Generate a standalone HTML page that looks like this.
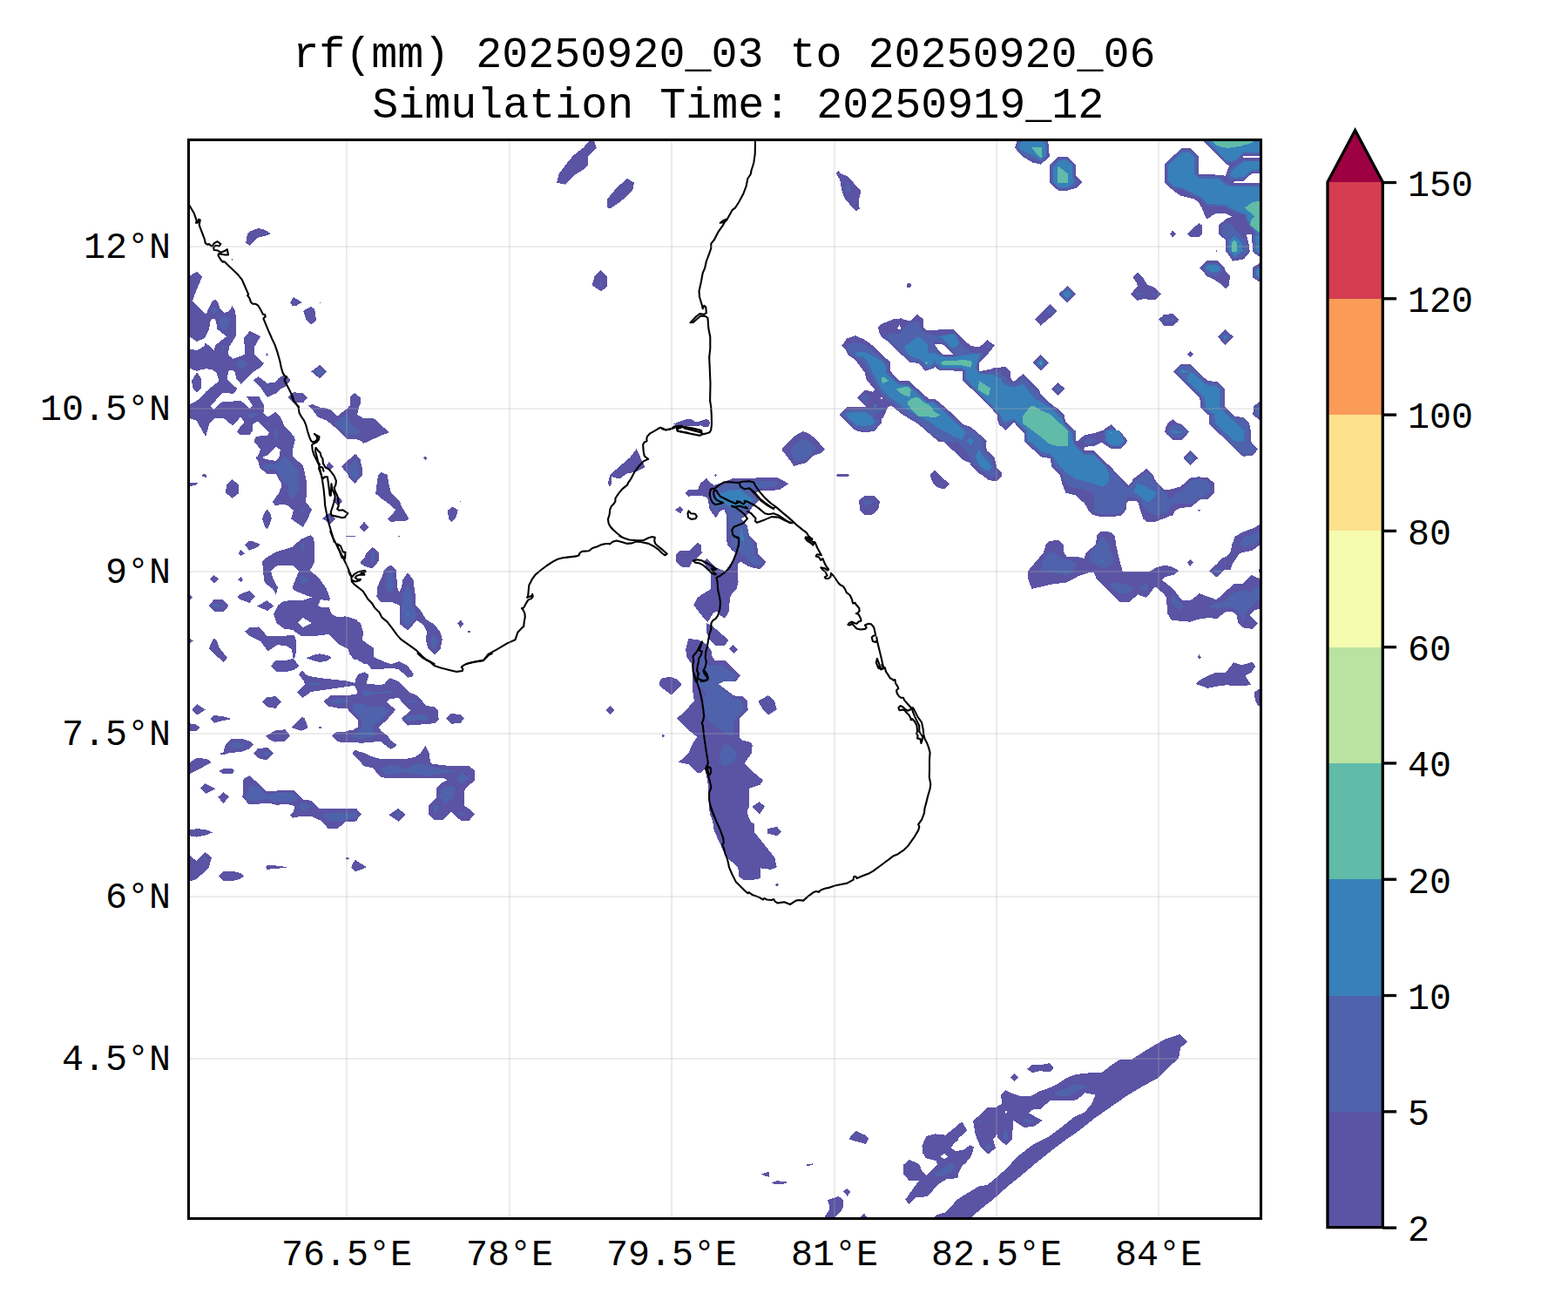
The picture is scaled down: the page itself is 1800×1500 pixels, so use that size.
<!DOCTYPE html>
<html><head><meta charset="utf-8"><title>rf(mm) map</title>
<style>html,body{margin:0;padding:0;background:#fff;overflow:hidden;width:1800px;height:1500px;font-family:"Liberation Mono",monospace}svg{display:block}</style></head><body>
<svg width="1800" height="1500" viewBox="0 0 1800 1500">
<rect width="1800" height="1500" fill="#fff"/>
<defs><clipPath id="ax"><rect x="216.5" y="160.5" width="1231.0" height="1238.0"/></clipPath></defs>
<g clip-path="url(#ax)" shape-rendering="crispEdges" stroke="none">
<path fill="#5b53a4" fill-rule="evenodd" d="M217.8 316.7L226.1 311.7L232.0 317.6L228.4 326.2L224.5 335.6L220.9 345.7L235.1 360.1L237.3 359.6L240.1 352.3L243.4 346.2L246.7 344.0L249.5 345.7L252.9 354.6L257.9 359.0L262.9 357.3L266.6 351.2L269.6 356.2L270.7 362.4L270.7 385.7L266.8 392.4L263.5 396.9L261.8 405.8L263.5 408.6L267.3 411.9L275.7 409.1L280.7 406.9L280.7 396.9L279.6 388.0L286.8 380.0L299.1 386.3L294.6 393.5L292.2 398.0L292.2 406.9L303.0 416.9L298.0 422.5L293.0 425.3L288.0 429.2L276.8 440.9L271.2 434.7L270.1 428.1L267.3 424.7L264.6 424.5L261.8 426.9L261.0 435.9L272.1 445.9L270.1 449.8L267.3 452.6L261.8 450.9L255.7 450.9L246.7 460.4L241.2 467.0L217.8 467.0Z"/>
<path fill="#5b53a4" fill-rule="evenodd" d="M367.0 418.9L375.1 426.4L367.2 434.7L357.2 426.4Z"/>
<path fill="#5b53a4" fill-rule="evenodd" d="M336.9 341.0L346.7 346.8L340.3 350.7L335.3 350.7L333.1 347.3Z"/>
<path fill="#5b53a4" fill-rule="evenodd" d="M356.8 351.8L360.9 354.6L362.0 359.0L362.8 367.4L357.0 372.9L352.0 367.9L348.1 356.8Z"/>
<path fill="#5b53a4" fill-rule="evenodd" d="M366.8 346.8L367.9 346.8L367.9 348.1L366.8 348.1Z"/>
<path fill="#5b53a4" fill-rule="evenodd" d="M306.3 404.7L308.0 407.5L305.2 407.8Z"/>
<path fill="#5b53a4" fill-rule="evenodd" d="M291.3 436.4L296.3 432.0L306.9 439.8L316.3 438.6L319.7 434.2L326.4 429.7L333.8 435.9L328.0 443.7L321.4 447.0L316.9 451.4L306.9 455.9L301.3 448.1L298.0 443.1Z"/>
<path fill="#5b53a4" fill-rule="evenodd" d="M330.3 455.9L336.9 450.3L347.0 450.9L352.8 456.5L348.1 462.0L335.8 461.5Z"/>
<path fill="#5b53a4" fill-rule="evenodd" d="M217.8 455.0L250.6 455.0L241.2 466.1L245.4 470.0L254.5 461.5L272.4 460.2L276.8 460.0L286.8 468.9L290.0 465.6L282.9 455.0L297.4 455.0L303.5 466.1L302.4 473.9L306.9 478.9L316.3 472.8L321.4 477.8L326.4 488.4L336.9 500.1L339.0 504.6L336.4 514.0L336.4 524.0L348.1 534.6L351.4 549.7L352.5 564.1L350.9 575.8L357.9 584.7L354.8 592.0L348.1 605.3L334.2 595.5L336.9 585.8L331.4 580.8L325.8 578.6L315.8 580.3L313.0 575.8L319.7 566.4L322.5 560.2L322.5 554.1L316.9 544.1L305.8 543.5L298.5 536.8L296.3 529.6L293.5 525.2L296.3 522.9L299.1 515.7L291.3 506.2L294.6 500.7L306.9 500.1L309.1 496.2L296.3 483.4L290.2 486.7L289.6 494.5L286.8 499.0L275.7 499.5L272.1 495.6L275.7 490.1L280.7 485.1L276.3 478.4L267.9 487.9L265.7 487.3L256.8 480.1L246.7 480.1L240.1 486.7L236.7 499.5L235.1 499.5L225.6 482.8L217.8 480.1Z"/>
<path fill="#5b53a4" fill-rule="evenodd" d="M231.2 545.0L235.1 543.9L237.8 545.8L236.7 548.0L232.8 546.9Z"/>
<path fill="#5b53a4" fill-rule="evenodd" d="M216.7 554.4L226.7 554.1L226.1 556.3L222.2 557.4L216.7 558.0Z"/>
<path fill="#5b53a4" fill-rule="evenodd" d="M266.2 550.2L273.5 555.8L274.0 566.4L266.2 571.9L259.0 565.2L260.1 556.9Z"/>
<path fill="#5b53a4" fill-rule="evenodd" d="M306.9 584.0L310.8 590.3L311.9 595.3L309.1 603.1L306.3 607.8L303.0 602.0L301.1 595.3L303.5 588.6Z"/>
<path fill="#5b53a4" fill-rule="evenodd" d="M354.2 465.6L358.1 463.9L368.1 467.8L373.7 468.4L379.8 470.6L387.1 477.8L392.6 473.4L399.3 468.4L402.1 466.1L402.7 455.0L410.0 455.0L410.0 504.0L398.2 503.8L388.2 493.4L374.8 482.3L364.8 478.9L359.2 470.6Z"/>
<path fill="#5b53a4" fill-rule="evenodd" d="M407.7 521.3L410.0 522.4L410.0 553.0L408.2 554.7L398.2 543.0L392.1 535.7L399.3 528.5Z"/>
<path fill="#5b53a4" fill-rule="evenodd" d="M377.6 530.2L383.2 535.2L379.3 539.6L373.7 535.7Z"/>
<path fill="#5b53a4" fill-rule="evenodd" d="M388.2 569.7L393.2 575.3L388.2 580.8L382.0 574.7Z"/>
<path fill="#5b53a4" fill-rule="evenodd" d="M377.6 588.6L384.8 595.3L379.3 601.1L370.0 595.3Z"/>
<path fill="#5b53a4" fill-rule="evenodd" d="M397.1 615.0L407.7 615.0L407.7 615.9L397.1 615.9Z"/>
<path fill="#5b53a4" fill-rule="evenodd" d="M357.0 613.9L359.8 617.8L361.4 624.5L360.9 645.6L355.9 654.5L359.8 657.9L367.0 664.6L374.8 675.7L379.0 686.8L377.6 689.6L368.1 688.0L365.3 694.6L368.1 696.9L377.6 697.4L380.9 704.7L387.1 708.0L397.1 707.4L410.0 711.3L410.0 757.0L406.0 756.4L399.3 744.7L388.2 739.2L377.0 728.0L363.7 729.7L345.3 729.7L335.8 723.0L325.8 721.4L317.5 715.2L314.1 705.2L319.1 694.6L325.8 689.6L347.0 689.1L358.1 685.7L338.1 677.9L335.3 675.1L342.5 656.8L343.1 655.1L336.9 649.0L317.5 649.5L311.1 655.1L313.0 663.5L318.9 674.0L316.9 682.4L313.0 675.7L305.2 670.1L303.0 665.7L301.1 644.5L304.7 640.6L316.9 633.4L335.8 627.8L345.3 618.9Z"/>
<path fill="#5b53a4" fill-rule="evenodd" d="M285.7 621.1L290.2 621.1L299.1 625.0L294.6 628.4L286.3 631.7L281.3 625.6Z"/>
<path fill="#5b53a4" fill-rule="evenodd" d="M276.5 631.2L280.7 635.4L276.8 637.8L273.3 635.1Z"/>
<path fill="#5b53a4" fill-rule="evenodd" d="M245.9 660.1L251.0 664.8L245.9 669.8L241.2 664.8Z"/>
<path fill="#5b53a4" fill-rule="evenodd" d="M276.5 662.1L279.0 665.1L276.6 667.9L273.5 665.5Z"/>
<path fill="#5b53a4" fill-rule="evenodd" d="M216.7 681.3L220.9 685.5L216.7 689.1Z"/>
<path fill="#5b53a4" fill-rule="evenodd" d="M286.3 678.2L293.0 684.8L286.3 691.8L276.8 688.5L272.4 685.2L276.8 681.3Z"/>
<path fill="#5b53a4" fill-rule="evenodd" d="M245.6 688.3L256.2 688.3L262.9 694.9L256.8 701.9L245.9 701.9L239.2 695.2Z"/>
<path fill="#5b53a4" fill-rule="evenodd" d="M306.7 689.1L314.1 695.5L306.9 701.1L295.2 695.5Z"/>
<path fill="#5b53a4" fill-rule="evenodd" d="M281.3 724.7L286.3 720.2L297.4 719.4L306.9 730.3L338.1 729.2L339.7 734.7L339.7 749.2L338.1 755.9L335.8 754.8L335.3 745.3L328.0 740.8L318.0 740.3L307.4 747.5L299.1 735.8L285.7 729.2Z"/>
<path fill="#5b53a4" fill-rule="evenodd" d="M216.7 731.9L221.7 735.6L216.7 739.2Z"/>
<path fill="#5b53a4" fill-rule="evenodd" d="M245.9 731.9L249.0 735.3L251.8 743.6L261.0 754.8L256.8 759.8L247.9 752.5L240.1 744.7L242.3 738.1Z"/>
<path fill="#5b53a4" fill-rule="evenodd" d="M367.0 750.3L377.0 752.3L380.9 754.8L374.8 758.7L367.0 760.1L358.1 757.6L351.2 755.3L359.2 752.0Z"/>
<path fill="#5b53a4" fill-rule="evenodd" d="M310.8 764.8L315.8 758.3L328.0 758.1L336.9 755.9L343.1 764.2L338.1 768.7L326.9 771.5L316.9 770.9Z"/>
<path fill="#5b53a4" fill-rule="evenodd" d="M347.0 768.9L350.3 773.4L354.8 776.1L370.4 778.4L399.3 781.7L407.1 783.9L410.0 777.2L410.0 792.8L407.1 786.7L388.2 789.5L368.1 792.3L357.0 794.0L347.5 800.9L340.8 794.5L350.1 785.0L348.1 780.6L343.1 774.5Z"/>
<path fill="#5b53a4" fill-rule="evenodd" d="M305.8 800.4L316.3 799.0L323.0 805.3L316.3 812.9L308.6 811.8L304.7 809.5L301.1 805.1Z"/>
<path fill="#5b53a4" fill-rule="evenodd" d="M371.5 805.1L379.3 798.2L399.3 797.9L410.0 796.7L410.0 825.1L398.2 812.9L388.2 812.7L377.0 810.7Z"/>
<path fill="#5b53a4" fill-rule="evenodd" d="M226.1 807.9L235.8 814.6L226.1 820.7L220.2 814.9Z"/>
<path fill="#5b53a4" fill-rule="evenodd" d="M245.6 821.2L254.5 821.8L264.0 824.2L264.0 825.7L254.5 827.4L246.2 829.6L241.2 825.1Z"/>
<path fill="#5b53a4" fill-rule="evenodd" d="M216.7 830.1L224.5 831.3L230.0 834.9L225.6 838.5L216.7 839.6Z"/>
<path fill="#5b53a4" fill-rule="evenodd" d="M347.0 822.9L349.8 824.6L352.8 832.9L352.5 835.7L345.9 838.7L334.2 834.9Z"/>
<path fill="#5b53a4" fill-rule="evenodd" d="M365.9 834.0L369.0 834.0L369.0 835.8L365.9 835.8Z"/>
<path fill="#5b53a4" fill-rule="evenodd" d="M305.2 844.6L315.8 838.5L327.5 837.2L333.1 844.6L326.9 850.7L315.8 851.6L308.0 848.0Z"/>
<path fill="#5b53a4" fill-rule="evenodd" d="M381.2 844.6L385.9 840.2L399.3 839.4L406.0 837.4L410.0 834.6L410.0 851.3L398.2 852.4L388.2 851.3Z"/>
<path fill="#5b53a4" fill-rule="evenodd" d="M265.7 848.0L278.5 848.0L286.8 850.7L291.1 854.6L285.7 859.7L276.8 862.8L263.5 864.1L256.8 866.3L253.2 865.8L253.2 864.1L256.2 863.6L259.0 854.1Z"/>
<path fill="#5b53a4" fill-rule="evenodd" d="M295.7 859.1L307.8 858.0L314.1 864.7L306.3 872.5L296.9 870.2L291.3 864.7Z"/>
<path fill="#5b53a4" fill-rule="evenodd" d="M410.0 860.8L404.3 864.7L410.0 870.8Z"/>
<path fill="#5b53a4" fill-rule="evenodd" d="M216.7 875.8L225.6 869.9L237.3 870.8L242.9 875.0L230.0 881.9L216.7 888.6Z"/>
<path fill="#5b53a4" fill-rule="evenodd" d="M256.8 882.1L266.8 881.9L269.0 884.7L266.8 887.7L255.7 887.7L251.2 884.7Z"/>
<path fill="#5b53a4" fill-rule="evenodd" d="M286.8 890.3L305.8 907.8L337.5 907.0L348.6 918.1L357.6 918.7L367.0 928.1L410.0 927.8L410.0 932.0L336.9 932.0L338.6 925.4L330.8 923.1L316.9 923.7L308.0 921.5L293.5 922.9L285.7 922.9L278.2 914.8L279.3 908.7L279.0 896.4L280.7 893.1Z"/>
<path fill="#5b53a4" fill-rule="evenodd" d="M235.8 899.2L247.9 905.3L236.2 910.9L230.0 904.8Z"/>
<path fill="#5b53a4" fill-rule="evenodd" d="M256.8 908.9L262.9 914.8L256.5 921.8L250.1 914.8Z"/>
<path fill="#5b53a4" fill-rule="evenodd" d="M336.9 920.0L338.6 925.0L336.9 931.1L333.1 935.6L336.4 938.7L339.2 937.6L357.6 936.9L368.1 941.7L376.5 950.6L387.1 951.4L397.1 942.8L410.0 942.3L410.0 928.4L371.5 928.4L367.0 928.4L358.7 920.0Z"/>
<path fill="#5b53a4" fill-rule="evenodd" d="M216.7 952.3L226.7 951.2L236.7 952.3L244.0 955.4L236.7 958.4L225.6 960.6L216.7 959.0Z"/>
<path fill="#5b53a4" fill-rule="evenodd" d="M216.7 980.7L225.6 988.2L235.8 977.9L242.9 984.6L239.5 996.3L233.4 1001.8L225.6 1009.1L216.7 1011.9Z"/>
<path fill="#5b53a4" fill-rule="evenodd" d="M256.2 1000.2L269.0 1000.2L276.8 1002.2L279.9 1005.5L276.3 1008.5L267.9 1010.8L256.2 1010.8L251.0 1005.2Z"/>
<path fill="#5b53a4" fill-rule="evenodd" d="M306.3 993.2L314.7 993.2L324.7 994.4L328.9 995.5L324.7 996.3L314.7 996.8L306.9 998.0L304.9 995.7Z"/>
<path fill="#5b53a4" fill-rule="evenodd" d="M396.2 984.0L399.3 984.0L401.0 985.7L398.2 986.8Z"/>
<path fill="#5b53a4" fill-rule="evenodd" d="M407.7 987.1L410.0 987.9L410.0 999.6L406.5 999.3L403.0 995.7L404.9 991.3Z"/>
<path fill="#5b53a4" fill-rule="evenodd" d="M284.2 268.3L287.5 265.3L296.7 262.0L304.2 263.7L310.8 268.3L305.8 270.3L296.7 272.5L291.7 276.7L286.7 281.7L282.2 278.7L283.3 271.7Z"/>
<path fill="#5b53a4" fill-rule="evenodd" d="M265.8 297.2L267.0 297.2L267.0 298.8L265.8 298.8Z"/>
<path fill="#5b53a4" fill-rule="evenodd" d="M676.7 161.7L682.0 161.7L684.7 170.0L675.0 179.2L674.7 190.0L669.2 195.0L660.8 200.0L655.0 205.8L649.2 211.7L639.2 209.7L641.7 199.2L650.0 188.3L658.3 178.3L670.0 169.2Z"/>
<path fill="#5b53a4" fill-rule="evenodd" d="M720.0 205.0L728.0 209.7L726.3 218.3L720.0 225.0L710.8 232.5L700.0 239.7L697.2 238.3L697.2 228.3L708.3 215.0Z"/>
<path fill="#5b53a4" fill-rule="evenodd" d="M690.0 310.0L696.7 317.0L696.7 329.2L690.0 334.2L679.7 327.5L682.5 316.7Z"/>
<path fill="#5b53a4" fill-rule="evenodd" d="M962.5 195.8L965.0 199.2L973.3 202.5L988.3 219.2L985.8 230.0L986.7 239.7L982.5 242.5L970.0 228.3L966.7 220.0L964.2 206.7L960.0 199.2Z"/>
<path fill="#5b53a4" fill-rule="evenodd" d="M1007.9 375.6L1012.4 371.7L1025.7 366.2L1034.6 365.4L1038.0 367.3L1045.2 367.8L1053.0 360.9L1059.7 366.2L1060.2 375.6L1063.0 379.0L1080.3 378.4L1094.8 378.4L1104.2 387.9L1114.8 397.3L1124.8 397.9L1133.7 390.3L1141.5 396.8L1133.7 406.8L1123.7 416.8L1123.7 426.3L1150.0 421.3L1150.0 489.2L1146.0 485.9L1144.3 474.7L1132.6 463.6L1114.8 445.8L1105.3 436.9L1105.3 425.7L1078.6 425.2L1073.6 421.3L1070.8 423.0L1062.5 425.7L1054.1 416.8L1044.1 415.7L1032.4 404.6L1021.3 393.5L1016.8 390.1L1011.2 386.2L1009.0 380.1Z"/>
<path fill="#5b53a4" fill-rule="evenodd" d="M966.1 396.8L972.3 388.4L982.3 385.1L992.9 390.1L1003.5 397.9L1021.8 415.7L1021.8 425.7L1033.0 437.4L1043.5 437.4L1065.8 457.5L1073.6 458.0L1085.9 468.1L1105.9 487.0L1114.8 490.3L1130.4 503.7L1133.7 507.0L1078.1 507.0L1072.5 502.6L1064.7 495.9L1054.7 487.0L1043.5 480.3L1034.6 474.7L1023.5 465.8L1019.6 466.9L1014.0 479.2L1011.8 480.9L1011.8 485.9L1003.5 494.8L992.3 496.5L982.3 494.2L972.3 484.8L963.9 475.9L972.3 467.5L994.5 466.9L984.0 456.4L992.9 447.5L1002.3 449.7L1004.6 446.9L995.1 436.9L992.9 428.0L982.3 413.5L973.9 407.4L970.6 400.7Z"/>
<path fill="#5b53a4" fill-rule="evenodd" d="M1140.0 421.8L1154.5 421.3L1160.0 426.3L1160.6 435.8L1163.9 438.0L1174.5 429.1L1192.9 447.5L1194.6 452.5L1209.0 465.8L1213.5 468.1L1221.8 476.4L1223.0 483.7L1234.7 494.8L1235.2 507.0L1175.6 507.0L1175.6 497.0L1163.9 484.8L1154.5 493.7L1146.7 487.0L1145.0 477.0L1140.0 471.4Z"/>
<path fill="#5b53a4" fill-rule="evenodd" d="M1205.1 349.1L1213.5 357.3L1206.3 363.9L1194.6 373.6L1188.1 366.9L1197.9 356.7Z"/>
<path fill="#5b53a4" fill-rule="evenodd" d="M1194.8 407.1L1204.0 416.3L1194.8 425.7L1185.4 416.3Z"/>
<path fill="#5b53a4" fill-rule="evenodd" d="M1214.8 439.1L1222.6 446.3L1214.8 453.8L1207.1 446.3Z"/>
<path fill="#5b53a4" fill-rule="evenodd" d="M1336.0 361.2L1340.0 361.2L1340.0 373.4L1336.5 373.2L1330.2 366.7Z"/>
<path fill="#5b53a4" fill-rule="evenodd" d="M1140.0 394.8L1142.0 396.6L1140.0 398.1Z"/>
<path fill="#5b53a4" fill-rule="evenodd" d="M1236.9 507.0L1244.7 499.5L1255.8 497.6L1263.6 495.9L1275.3 487.2L1294.8 507.0Z"/>
<path fill="#5b53a4" fill-rule="evenodd" d="M1340.0 488.7L1338.2 489.8L1337.1 495.9L1340.0 499.2Z"/>
<path fill="#5b53a4" fill-rule="evenodd" d="M1175.6 493.9L1235.2 493.9L1235.2 506.1L1238.0 505.6L1244.7 499.5L1255.8 497.2L1265.8 493.9L1284.8 493.9L1294.8 506.1L1287.0 514.5L1274.7 514.5L1264.7 507.8L1256.9 511.7L1245.8 512.8L1244.1 515.6L1245.2 517.3L1255.8 517.3L1274.7 535.6L1295.3 556.8L1315.9 537.9L1323.7 545.1L1325.4 550.7L1336.0 561.8L1340.0 562.4L1340.0 593.6L1327.1 598.6L1315.9 598.6L1312.0 594.1L1307.0 578.0L1304.8 574.6L1295.9 574.6L1293.1 578.0L1292.6 585.2L1287.0 591.7L1275.3 593.2L1259.2 592.4L1254.7 590.8L1249.1 585.2L1245.2 578.0L1234.7 568.5L1223.5 565.7L1219.6 556.2L1216.8 545.7L1207.4 535.6L1205.7 526.2L1194.6 524.2L1175.6 506.1Z"/>
<path fill="#5b53a4" fill-rule="evenodd" d="M1179.5 655.9L1197.9 634.2L1200.7 624.7L1204.6 621.4L1209.6 620.3L1215.7 620.3L1220.7 625.3L1221.1 633.6L1224.6 638.7L1238.0 639.2L1244.7 640.9L1246.9 634.2L1258.0 624.7L1259.2 614.7L1264.2 609.5L1275.3 610.8L1279.8 615.3L1281.4 626.4L1288.1 655.4L1295.9 660.9L1313.7 660.4L1323.7 653.7L1329.3 650.9L1336.0 649.2L1340.0 650.3L1340.0 655.9L1179.5 655.9Z"/>
<path fill="#5b53a4" fill-rule="evenodd" d="M1180.1 655.9L1186.8 647.8L1287.0 647.8L1288.1 654.5L1295.3 660.9L1313.7 660.0L1323.7 653.4L1329.3 650.6L1336.0 649.1L1340.0 650.2L1340.0 662.3L1337.1 662.3L1334.3 665.6L1337.7 669.5L1340.0 670.6L1340.0 694.0L1339.3 693.5L1338.8 684.5L1333.8 678.4L1325.7 672.9L1315.9 685.9L1306.5 682.1L1296.5 690.7L1285.3 690.7L1265.8 671.7L1258.6 663.9L1255.8 657.3L1249.1 657.3L1238.0 661.2L1224.6 668.4L1206.8 670.6L1184.5 675.9L1182.3 670.1L1180.1 663.9Z"/>
<path fill="#5b53a4" fill-rule="evenodd" d="M1379.1 159.5L1389.4 170.2L1406.3 187.2L1411.3 190.3L1409.5 194.3L1406.8 201.9L1399.2 200.6L1376.0 200.1L1376.0 179.1L1366.6 170.2L1356.3 170.2L1337.1 188.1L1337.1 209.5L1346.5 218.4L1355.4 224.7L1362.6 226.5L1371.5 228.7L1376.0 232.7L1379.5 238.1L1381.3 242.6L1383.1 247.9L1386.2 251.5L1392.0 247.0L1396.5 244.8L1407.2 245.3L1414.4 248.4L1407.2 251.5L1399.2 258.2L1399.2 268.9L1407.2 275.6L1407.2 289.0L1449.2 289.0L1449.2 159.5Z"/>
<path fill="#5b53a4" fill-rule="evenodd" d="M1346.0 264.9L1350.0 268.5L1346.0 272.1L1342.9 268.5Z"/>
<path fill="#5b53a4" fill-rule="evenodd" d="M1376.4 256.0L1380.0 258.7L1380.0 268.5L1376.9 271.9L1366.6 271.9L1363.0 268.0Z"/>
<path fill="#5b53a4" fill-rule="evenodd" d="M1407.2 280.0L1434.0 280.0L1434.9 288.9L1427.8 297.4L1415.3 299.7L1411.7 294.3L1407.2 288.0Z"/>
<path fill="#5b53a4" fill-rule="evenodd" d="M1438.1 280.0L1449.2 280.0L1449.2 297.0L1443.9 293.4L1438.1 288.9Z"/>
<path fill="#5b53a4" fill-rule="evenodd" d="M1449.2 300.1L1438.1 306.8L1438.1 318.4L1449.2 326.0Z"/>
<path fill="#5b53a4" fill-rule="evenodd" d="M1395.9 286.8L1397.1 286.8L1397.1 289.1L1395.9 289.1Z"/>
<path fill="#5b53a4" fill-rule="evenodd" d="M1385.8 299.0L1397.4 299.0L1405.9 307.3L1406.8 311.3L1411.7 316.2L1411.3 327.4L1407.7 330.9L1405.5 330.5L1400.1 325.1L1392.0 319.8L1386.2 317.5L1377.3 307.7Z"/>
<path fill="#5b53a4" fill-rule="evenodd" d="M1335.7 361.3L1341.1 360.9L1342.0 360.2L1346.5 360.2L1352.9 366.7L1352.3 368.9L1346.5 373.8L1336.6 373.8L1330.2 366.9Z"/>
<path fill="#5b53a4" fill-rule="evenodd" d="M1406.3 378.1L1416.2 386.8L1406.3 396.0L1398.1 386.8Z"/>
<path fill="#5b53a4" fill-rule="evenodd" d="M1366.3 403.1L1370.2 406.7L1366.3 410.0L1363.0 406.7Z"/>
<path fill="#5b53a4" fill-rule="evenodd" d="M1167.8 160.0L1202.9 160.0L1204.0 168.9L1204.8 179.5L1195.1 188.7L1185.7 186.7L1174.5 180.0L1165.1 170.0Z"/>
<path fill="#5b53a4" fill-rule="evenodd" d="M1214.6 180.3L1225.7 180.3L1234.7 189.2L1234.9 201.8L1242.7 209.3L1235.8 215.7L1225.7 218.5L1214.6 218.5L1205.1 209.6L1205.1 189.5Z"/>
<path fill="#5b53a4" fill-rule="evenodd" d="M1340.0 185.6L1337.1 188.4L1337.1 209.6L1340.0 211.8Z"/>
<path fill="#5b53a4" fill-rule="evenodd" d="M1306.0 313.0L1312.7 319.3L1316.0 325.3L1318.0 327.0L1325.3 330.0L1333.0 337.7L1326.7 343.7L1319.3 343.7L1312.7 343.0L1305.7 344.8L1298.0 337.5L1306.0 328.0L1304.0 323.3L1301.3 319.3L1301.3 317.3Z"/>
<path fill="#5b53a4" fill-rule="evenodd" d="M1355.4 418.1L1366.6 418.1L1386.2 437.1L1397.4 438.0L1405.9 446.5L1405.9 466.6L1417.1 477.7L1427.8 479.1L1434.0 485.8L1435.8 494.7L1436.3 507.2L1444.1 515.7L1437.6 522.9L1426.9 523.8L1417.1 514.8L1388.5 486.7L1388.0 476.0L1386.2 476.0L1378.2 467.5L1377.3 456.3L1347.2 426.4Z"/>
<path fill="#5b53a4" fill-rule="evenodd" d="M1346.5 480.9L1352.3 486.2L1356.3 486.7L1365.1 495.8L1356.7 504.7L1346.5 504.7L1337.1 496.1L1340.2 486.2Z"/>
<path fill="#5b53a4" fill-rule="evenodd" d="M1366.3 517.1L1375.1 526.0L1366.3 534.0L1358.1 526.0Z"/>
<path fill="#5b53a4" fill-rule="evenodd" d="M1449.2 458.1L1439.4 466.1L1438.1 476.0L1449.2 484.5Z"/>
<path fill="#5b53a4" fill-rule="evenodd" d="M1300.0 550.4L1316.1 538.1L1323.7 545.0L1325.9 550.8L1335.7 562.0L1343.8 561.6L1355.4 558.4L1366.1 548.6L1376.0 547.3L1386.7 548.2L1393.8 554.4L1393.8 565.6L1386.7 572.7L1376.9 573.6L1367.9 581.7L1355.4 583.0L1349.2 585.7L1346.0 591.5L1335.7 594.2L1326.8 598.6L1316.1 598.6L1312.5 595.5L1309.4 586.6L1306.3 575.9L1300.0 573.6Z"/>
<path fill="#5b53a4" fill-rule="evenodd" d="M1374.9 585.2L1378.2 585.2L1376.4 587.0Z"/>
<path fill="#5b53a4" fill-rule="evenodd" d="M1449.2 600.0L1439.4 605.8L1425.1 611.2L1417.5 616.1L1414.4 624.6L1412.2 634.8L1397.9 646.5L1389.4 654.0L1412.6 654.0L1415.3 645.6L1423.3 634.8L1437.6 631.7L1449.2 623.2Z"/>
<path fill="#5b53a4" fill-rule="evenodd" d="M1366.3 642.0L1370.2 645.1L1366.3 650.0L1363.0 645.6Z"/>
<path fill="#5b53a4" fill-rule="evenodd" d="M1403.7 640.0L1419.7 640.0L1416.2 645.4L1407.2 652.5L1397.0 662.8L1388.0 655.4L1397.4 646.7Z"/>
<path fill="#5b53a4" fill-rule="evenodd" d="M1449.2 652.5L1445.2 653.4L1444.3 655.2L1446.1 657.9L1449.2 658.3Z"/>
<path fill="#5b53a4" fill-rule="evenodd" d="M1300.0 661.0L1312.5 659.7L1317.9 658.3L1325.9 652.1L1335.7 648.9L1342.9 649.8L1348.7 652.1L1353.2 655.4L1347.4 659.7L1335.7 662.3L1333.8 665.5L1346.5 675.7L1357.2 689.2L1366.6 689.2L1376.9 681.1L1396.5 688.3L1416.2 670.4L1426.9 669.9L1436.7 660.1L1449.2 665.5L1449.2 697.6L1439.4 700.8L1434.5 705.7L1444.1 715.5L1437.2 721.8L1426.9 720.4L1421.5 715.1L1419.3 705.2L1416.2 702.6L1407.2 702.1L1397.4 709.7L1385.8 709.3L1376.0 710.6L1366.1 713.7L1355.4 712.8L1344.7 711.5L1340.2 704.3L1339.3 686.5L1335.7 681.1L1325.9 673.1L1316.1 686.0L1305.4 682.0L1300.0 686.9Z"/>
<path fill="#5b53a4" fill-rule="evenodd" d="M1376.4 751.3L1379.1 754.8L1377.0 756.9L1374.9 754.8Z"/>
<path fill="#5b53a4" fill-rule="evenodd" d="M1392.0 774.0L1394.7 772.3L1407.2 771.8L1416.6 760.2L1425.1 763.3L1431.4 762.0L1437.2 759.3L1441.2 764.7L1436.7 771.4L1432.3 774.0Z"/>
<path fill="#5b53a4" fill-rule="evenodd" d="M1416.6 760.0L1419.7 761.8L1425.1 763.1L1431.4 761.8L1437.2 760.0L1441.2 764.9L1436.7 769.8L1429.6 776.1L1436.0 785.5L1429.6 787.3L1421.5 786.8L1407.2 786.4L1396.5 787.7L1386.2 789.9L1379.5 787.3L1372.2 785.0L1376.0 781.4L1388.0 774.7L1395.6 772.5L1406.8 772.1L1413.5 763.6Z"/>
<path fill="#5b53a4" fill-rule="evenodd" d="M1449.2 788.2L1439.4 794.9L1441.2 804.7L1443.9 809.2L1449.2 812.3Z"/>
<path fill="#5b53a4" fill-rule="evenodd" d="M400.0 466.7L402.2 465.6L402.2 455.6L407.2 450.9L413.9 456.7L413.9 463.4L412.8 464.5L411.1 472.3L410.0 475.6L416.7 479.9L429.0 480.1L446.0 495.5L445.7 496.8L437.9 499.6L417.8 508.8L413.4 505.7L407.8 503.5L400.0 501.8Z"/>
<path fill="#5b53a4" fill-rule="evenodd" d="M400.0 528.0L407.2 521.1L413.4 526.3L415.6 536.9L415.8 545.2L407.6 554.7L400.0 547.5Z"/>
<path fill="#5b53a4" fill-rule="evenodd" d="M437.9 541.9L445.1 545.2L445.7 552.5L447.9 561.4L449.0 565.8L458.5 575.3L462.4 583.7L469.6 595.3L465.1 598.1L447.9 598.7L445.1 595.3L454.6 585.3L442.9 575.3L439.0 573.1L431.2 566.4L432.3 558.0L434.0 545.2Z"/>
<path fill="#5b53a4" fill-rule="evenodd" d="M488.0 524.1L490.2 525.7L488.5 528.0L486.0 525.5Z"/>
<path fill="#5b53a4" fill-rule="evenodd" d="M527.8 575.0L529.0 575.0L529.0 576.1L527.8 576.1Z"/>
<path fill="#5b53a4" fill-rule="evenodd" d="M518.9 581.2L525.8 585.3L523.1 594.2L518.6 599.0L514.9 595.3L514.1 585.9Z"/>
<path fill="#5b53a4" fill-rule="evenodd" d="M418.0 598.9L423.2 605.2L418.0 610.8L412.2 605.2Z"/>
<path fill="#5b53a4" fill-rule="evenodd" d="M457.0 614.8L458.8 614.8L458.8 615.9L457.0 615.9Z"/>
<path fill="#5b53a4" fill-rule="evenodd" d="M427.8 627.9L434.7 634.0L434.7 644.0L427.3 652.7L417.8 649.6L413.4 645.7L418.4 640.1L420.0 635.6Z"/>
<path fill="#5b53a4" fill-rule="evenodd" d="M448.1 648.2L454.8 654.0L455.7 667.4L456.8 678.0L458.5 679.1L461.0 674.1L462.4 665.2L467.9 657.1L474.4 665.2L476.8 683.5L477.4 695.2L483.0 700.8L489.1 710.8L498.0 716.4L505.2 724.7L507.8 733.6L505.6 744.8L498.6 751.5L491.3 744.2L489.4 736.4L489.6 724.2L485.7 716.9L478.5 711.9L468.2 723.6L458.5 715.8L458.5 694.7L449.0 690.8L437.3 690.5L432.3 685.2L433.4 673.0L439.0 660.7L440.6 654.6Z"/>
<path fill="#5b53a4" fill-rule="evenodd" d="M529.0 711.9L532.2 715.5L528.6 720.8L525.3 715.5Z"/>
<path fill="#5b53a4" fill-rule="evenodd" d="M537.0 724.2L540.1 724.2L540.1 725.8L537.0 725.8Z"/>
<path fill="#5b53a4" fill-rule="evenodd" d="M400.0 708.6L406.7 710.3L413.9 715.3L416.9 725.3L416.1 734.8L429.5 744.2L429.2 754.2L437.9 758.1L446.2 762.0L417.8 762.0L411.1 757.6L405.6 756.5L400.0 747.6Z"/>
<path fill="#5b53a4" fill-rule="evenodd" d="M400.0 750.0L429.0 750.0L429.2 755.0L437.9 758.4L449.0 762.2L453.5 760.6L457.9 759.1L466.8 763.4L470.7 767.8L474.8 773.9L473.5 776.5L467.9 777.8L462.4 772.3L456.8 767.8L444.5 766.7L437.9 768.4L427.3 768.4L417.8 758.4L406.7 756.1L403.3 751.7Z"/>
<path fill="#5b53a4" fill-rule="evenodd" d="M408.4 783.4L408.4 779.0L411.1 773.9L418.4 771.2L423.2 774.5L422.8 777.8L421.2 781.2L420.6 784.5L436.7 786.2L441.8 784.5L444.0 781.2L448.1 778.2L457.9 782.3L470.2 794.5L478.0 797.9L485.7 805.7L489.1 810.1L498.6 811.0L502.7 815.7L503.0 822.4L504.1 825.2L499.7 829.6L491.3 831.3L471.3 831.8L468.2 833.0L461.0 824.8L471.3 815.1L466.8 811.2L460.7 805.1L457.9 801.2L447.9 801.8L444.0 805.5L454.0 814.6L444.5 825.7L434.5 835.2L437.9 839.1L445.1 844.7L447.9 849.1L455.7 855.2L451.2 858.6L448.1 859.7L442.9 855.8L436.7 850.8L420.0 852.4L415.6 852.7L400.0 851.9L400.0 838.5L406.7 838.0L410.6 834.6L410.6 825.7L400.0 815.7L400.0 798.4L407.8 799.0L410.2 794.5L408.4 786.7Z"/>
<path fill="#5b53a4" fill-rule="evenodd" d="M517.5 819.0L528.1 819.9L533.1 824.8L528.1 830.0L518.0 830.7L511.9 824.8Z"/>
<path fill="#5b53a4" fill-rule="evenodd" d="M404.5 864.1L407.2 861.1L417.8 864.1L427.8 868.6L436.7 870.8L466.8 870.8L476.8 868.6L482.4 864.7L488.5 856.0L492.4 863.6L494.1 874.7L496.9 876.9L518.0 879.2L538.6 879.2L544.8 884.2L544.8 895.9L534.7 904.2L533.1 908.1L533.1 917.0L500.2 917.0L501.9 913.7L501.3 904.2L506.9 898.7L513.0 895.3L509.7 893.1L471.3 892.5L460.1 892.5L441.2 892.5L437.3 892.0L427.8 881.4L417.8 879.2L410.0 870.3Z"/>
<path fill="#5b53a4" fill-rule="evenodd" d="M501.3 905.0L533.6 905.0L532.5 915.0L533.1 925.0L538.6 928.4L545.0 934.5L538.6 941.5L528.6 941.5L518.0 931.7L508.6 940.9L498.6 941.5L492.2 935.1L492.2 924.5L501.3 915.6Z"/>
<path fill="#5b53a4" fill-rule="evenodd" d="M400.0 928.2L408.4 928.2L415.0 934.8L407.6 942.6L400.0 942.6Z"/>
<path fill="#5b53a4" fill-rule="evenodd" d="M457.3 927.8L465.9 935.1L457.9 942.9L446.2 935.3Z"/>
<path fill="#5b53a4" fill-rule="evenodd" d="M407.6 987.2L420.9 995.0L416.7 997.4L407.6 999.9L403.1 995.8Z"/>
<path fill="#5b53a4" fill-rule="evenodd" d="M730.5 515.2L733.7 521.3L737.0 529.1L739.8 534.7L739.8 536.9L731.4 540.8L725.9 542.4L720.3 543.0L712.5 548.6L706.9 548.6L701.9 546.9L701.9 555.8L700.2 558.6L698.6 556.9L698.2 553.6L700.2 545.2L712.5 534.1L723.6 524.6Z"/>
<path fill="#5b53a4" fill-rule="evenodd" d="M781.0 580.9L784.0 584.8L781.3 589.0L775.1 585.3Z"/>
<path fill="#5b53a4" fill-rule="evenodd" d="M773.1 486.5L780.0 483.9L787.8 481.2L793.4 481.2L797.9 483.9L804.5 483.4L810.1 480.9L813.5 482.3L815.5 486.2L812.3 490.1L809.0 490.3L804.5 488.4L793.4 489.5L782.3 488.1L775.6 487.8Z"/>
<path fill="#5b53a4" fill-rule="evenodd" d="M922.0 495.1L929.3 497.9L935.9 503.4L947.1 515.7L942.6 520.1L933.7 522.9L924.8 531.3L911.4 534.8L903.7 524.0L897.2 515.9L909.2 502.9L915.9 497.9Z"/>
<path fill="#5b53a4" fill-rule="evenodd" d="M821.5 543.7L823.3 545.5L821.0 546.9L819.9 545.5Z"/>
<path fill="#5b53a4" fill-rule="evenodd" d="M786.9 565.8L790.6 561.9L801.2 561.6L804.0 554.7L811.0 548.9L815.7 554.1L820.1 556.9L831.3 553.0L841.3 549.1L891.4 548.0L897.0 550.2L905.0 555.2L895.9 561.6L892.5 562.4L875.8 563.0L870.2 564.1L865.8 566.9L871.4 573.6L864.7 580.8L858.0 590.3L852.4 597.0L858.0 603.7L860.2 615.9L868.6 624.8L869.1 627.0L835.7 627.0L834.1 620.4L834.1 591.4L831.3 584.7L826.8 586.4L821.8 594.2L817.9 589.2L814.6 584.7L812.3 571.4L804.5 568.6L796.7 569.1L790.1 569.7Z"/>
<path fill="#5b53a4" fill-rule="evenodd" d="M780.3 581.2L783.9 584.7L780.6 589.0L775.0 585.3Z"/>
<path fill="#5b53a4" fill-rule="evenodd" d="M834.7 615.0L860.4 615.0L869.3 623.9L869.8 635.0L879.8 645.1L872.6 652.9L867.0 652.3L858.1 649.5L850.3 644.5L847.0 647.3L847.0 661.8L847.6 667.3L845.9 675.1L839.2 682.9L838.1 686.3L836.4 703.0L832.0 709.7L826.9 706.3L824.2 701.9L819.2 703.0L812.5 714.1L809.1 710.8L803.6 704.1L796.3 694.6L800.2 686.3L804.7 682.9L815.8 676.2L816.4 658.4L813.6 654.0L809.7 648.4L806.9 645.1L811.9 641.2L815.8 645.1L822.5 651.7L832.5 655.6L840.3 644.0L845.9 635.0L840.3 631.7L835.3 625.0Z"/>
<path fill="#5b53a4" fill-rule="evenodd" d="M800.8 623.0L804.7 625.6L805.8 635.0L798.0 642.3L795.8 642.8L791.9 650.6L783.5 650.9L779.6 648.4L776.3 644.5L776.3 636.2L780.2 632.3L791.3 631.9Z"/>
<path fill="#5b53a4" fill-rule="evenodd" d="M811.4 715.2L818.0 718.6L836.7 734.7L832.0 740.6L821.4 740.6L814.7 734.2L811.4 726.4Z"/>
<path fill="#5b53a4" fill-rule="evenodd" d="M841.6 739.9L847.0 745.1L842.0 750.0L837.2 744.7Z"/>
<path fill="#5b53a4" fill-rule="evenodd" d="M790.2 733.0L801.9 734.2L806.9 736.9L812.5 740.8L816.4 746.4L817.8 754.2L820.3 757.5L832.5 758.1L849.8 775.4L844.8 782.0L795.8 782.0L794.7 763.1L789.1 755.3L788.0 752.0L787.1 745.3L789.1 737.5Z"/>
<path fill="#5b53a4" fill-rule="evenodd" d="M795.1 770.0L843.6 770.0L849.7 775.0L842.4 782.0L832.4 781.7L824.6 785.0L842.4 798.4L852.5 799.0L858.0 804.0L858.6 814.5L848.6 824.6L848.6 845.7L852.5 849.6L861.4 851.8L863.8 855.2L862.5 864.7L854.7 875.8L866.9 888.0L875.9 895.3L872.5 900.8L860.0 904.7L860.0 925.9L858.0 930.4L857.5 937.0L815.7 937.0L813.5 925.9L813.5 909.2L812.4 898.1L809.6 882.5L804.6 886.9L801.2 887.5L790.7 877.5L779.0 874.7L790.1 864.7L794.6 854.6L800.1 845.7L789.0 836.8L777.0 824.8L787.9 814.5L796.8 804.5L795.1 792.3Z"/>
<path fill="#5b53a4" fill-rule="evenodd" d="M760.0 778.0L770.1 776.9L776.7 779.5L782.9 785.0L775.6 793.4L771.0 797.8L762.3 791.2L756.9 786.7L757.3 782.2Z"/>
<path fill="#5b53a4" fill-rule="evenodd" d="M760.6 842.4L762.8 844.8L761.2 846.8L759.2 845.2Z"/>
<path fill="#5b53a4" fill-rule="evenodd" d="M882.0 798.1L889.2 804.5L891.7 814.0L882.0 820.7L875.3 813.4L870.3 804.7Z"/>
<path fill="#5b53a4" fill-rule="evenodd" d="M871.6 920.1L877.9 925.3L872.0 934.8L863.4 925.7Z"/>
<path fill="#5b53a4" fill-rule="evenodd" d="M815.7 925.0L860.3 925.0L858.0 930.6L858.6 936.1L862.5 943.9L865.8 945.6L866.1 955.1L889.2 984.0L891.7 995.2L885.9 997.6L878.1 997.4L873.1 996.3L872.7 1008.0L865.8 1009.6L853.6 1009.6L848.6 1006.8L847.1 995.2L836.3 985.7L830.2 976.2L824.6 964.0L819.6 952.8L818.0 941.7L815.2 935.0Z"/>
<path fill="#5b53a4" fill-rule="evenodd" d="M881.2 951.2L892.0 948.9L897.0 954.5L892.6 959.5L881.4 956.7Z"/>
<path fill="#5b53a4" fill-rule="evenodd" d="M892.0 1013.9L894.2 1015.4L892.0 1017.0L890.1 1015.4Z"/>
<path fill="#5b53a4" fill-rule="evenodd" d="M1070.8 500.0L1125.9 500.0L1132.1 505.6L1132.6 516.7L1141.5 525.1L1144.3 536.7L1150.0 542.9L1150.0 546.8L1144.3 552.3L1134.9 551.2L1128.2 545.7L1123.7 543.4L1114.8 534.5L1113.7 531.2L1104.8 527.8L1093.7 516.7L1082.5 506.1L1075.8 503.9Z"/>
<path fill="#5b53a4" fill-rule="evenodd" d="M959.5 545.1L961.1 544.3L973.4 544.3L975.1 545.7L973.6 547.3L961.1 547.3Z"/>
<path fill="#5b53a4" fill-rule="evenodd" d="M992.3 569.3L1003.5 569.3L1009.9 575.7L1008.5 583.5L1003.5 589.1L1000.7 590.8L992.3 590.8L987.0 585.5L986.2 574.1Z"/>
<path fill="#5b53a4" fill-rule="evenodd" d="M1073.1 539.9L1090.1 555.7L1083.6 561.5L1076.9 559.6L1071.9 555.7L1069.2 550.1L1067.5 545.4Z"/>
<path fill="#5b53a4" fill-rule="evenodd" d="M982.7 1298.0L994.0 1303.1L997.1 1306.7L994.0 1312.9L982.7 1310.0L974.0 1307.1Z"/>
<path fill="#5b53a4" fill-rule="evenodd" d="M926.4 1336.4L932.7 1335.3L934.0 1337.3L926.4 1337.7Z"/>
<path fill="#5b53a4" fill-rule="evenodd" d="M874.0 1347.3L882.7 1344.9L882.9 1350.7L878.7 1350.0Z"/>
<path fill="#5b53a4" fill-rule="evenodd" d="M886.0 1357.3L892.0 1355.3L902.9 1356.0L902.9 1357.7L898.7 1359.1L888.7 1358.7Z"/>
<path fill="#5b53a4" fill-rule="evenodd" d="M972.3 1364.0L976.0 1368.0L972.7 1372.9L968.3 1367.3Z"/>
<path fill="#5b53a4" fill-rule="evenodd" d="M945.3 1398.7L952.0 1388.7L952.0 1383.3L950.0 1377.3L962.7 1372.9L967.7 1377.3L967.7 1386.0L965.3 1390.0L957.3 1398.7Z"/>
<path fill="#5b53a4" fill-rule="evenodd" d="M985.3 1398.7L992.0 1392.9L997.3 1398.7Z"/>
<path fill="#5b53a4" fill-rule="evenodd" d="M1100.0 1291.3L1085.3 1302.7L1073.3 1301.3L1063.3 1304.0L1058.4 1315.3L1059.3 1323.3L1062.7 1329.3L1074.7 1332.0L1076.0 1336.7L1063.3 1349.3L1058.7 1344.7L1055.3 1336.0L1044.0 1331.1L1037.1 1336.7L1037.3 1347.3L1043.3 1354.7L1054.7 1355.3L1039.3 1376.7L1043.3 1382.0L1052.0 1374.0L1064.0 1373.3L1078.7 1358.0L1086.7 1353.3L1100.0 1351.3Z"/>
<path fill="#5b53a4" fill-rule="evenodd" d="M1070.0 1398.7L1076.0 1394.0L1085.3 1391.3L1092.0 1384.7L1100.0 1378.0L1100.0 1398.7Z"/>
<path fill="#5b53a4" fill-rule="evenodd" d="M1355.0 1187.0L1363.3 1195.8L1355.0 1202.5L1353.0 1215.0L1345.0 1221.7L1330.0 1236.7L1311.7 1246.7L1295.0 1256.7L1273.3 1271.7L1256.7 1283.3L1240.0 1296.7L1223.3 1308.3L1206.7 1320.8L1190.0 1334.2L1173.3 1348.3L1156.7 1361.7L1140.0 1376.7L1125.0 1388.3L1113.3 1398.7L1090.0 1398.7L1090.0 1388.3L1096.7 1378.3L1106.7 1371.7L1123.3 1361.7L1133.3 1360.0L1143.3 1351.7L1156.7 1340.0L1166.7 1328.3L1185.0 1314.2L1203.3 1305.0L1216.7 1295.0L1233.3 1281.7L1245.0 1276.7L1253.3 1266.7L1257.5 1256.7L1245.8 1254.2L1236.7 1261.7L1231.7 1263.3L1213.3 1263.3L1205.0 1263.3L1195.0 1272.5L1186.7 1272.5L1180.8 1277.5L1196.7 1285.8L1190.0 1290.8L1185.8 1293.3L1175.0 1293.7L1163.3 1285.8L1161.7 1308.3L1155.0 1314.7L1145.0 1305.8L1145.0 1301.7L1140.0 1307.5L1143.0 1317.5L1134.2 1324.7L1125.8 1316.7L1120.0 1303.3L1117.0 1286.7L1125.0 1279.2L1133.7 1271.2L1143.3 1270.8L1150.0 1266.7L1149.2 1256.7L1154.7 1251.3L1160.0 1254.2L1170.0 1257.5L1184.2 1257.5L1193.3 1252.5L1205.0 1248.3L1215.0 1243.3L1225.0 1236.7L1235.0 1233.3L1245.0 1231.7L1265.0 1230.8L1276.7 1221.7L1285.0 1216.3L1298.3 1216.3L1315.0 1205.8L1331.7 1195.8L1340.0 1191.7Z"/>
<path fill="#5b53a4" fill-rule="evenodd" d="M1090.0 1299.2L1104.2 1287.2L1110.0 1297.0L1104.2 1303.3L1096.7 1308.3L1092.5 1315.0L1093.3 1319.2L1098.3 1320.8L1105.8 1320.0L1113.3 1314.2L1118.0 1316.7L1115.0 1326.7L1108.3 1335.0L1104.2 1338.3L1100.0 1346.7L1095.0 1352.5L1090.0 1352.5Z"/>
<path fill="#5b53a4" fill-rule="evenodd" d="M1185.0 1221.7L1193.3 1222.5L1205.0 1220.0L1209.7 1225.8L1205.8 1230.3L1193.3 1229.2L1185.0 1231.3L1179.2 1226.7Z"/>
<path fill="#5b53a4" fill-rule="evenodd" d="M1164.5 1232.0L1169.2 1236.7L1164.7 1240.8L1160.0 1236.3Z"/>
<path fill="#5b53a4" fill-rule="evenodd" d="M1225.5 328.0L1234.9 337.4L1230.5 342.0L1225.0 348.0L1223.0 346.0L1216.1 338.8L1216.1 336.5L1218.0 334.5L1219.5 334.0Z"/>
<path fill="#5b53a4" fill-rule="evenodd" d="M700.2 810.0L705.0 815.0L700.2 820.0L695.5 815.0Z"/>
<path fill="#5b53a4" fill-rule="evenodd" d="M1046.3 327.6L1045.9 329.1L1044.9 330.1L1043.4 330.5L1042.0 330.1L1040.9 329.1L1040.5 327.6L1040.9 326.2L1042.0 325.1L1043.4 324.7L1044.9 325.1L1045.9 326.2Z"/>
<path fill="#ffffff" fill-rule="evenodd" d="M216.7 385.7L226.1 391.9L235.1 388.0L240.1 378.0L241.7 367.9L243.4 366.3L246.7 366.3L248.4 370.2L249.0 377.4L260.1 386.3L254.0 390.8L247.3 396.3L245.9 401.9L236.7 394.1L235.8 392.4L234.7 396.9L226.7 401.9L216.7 400.8Z"/>
<path fill="#ffffff" fill-rule="evenodd" d="M216.7 422.5L226.1 425.8L232.3 423.6L238.4 423.4L244.5 424.7L248.4 428.1L250.6 434.7L251.2 437.5L236.7 449.2L231.2 455.9L224.5 460.9L216.7 464.8Z"/>
<path fill="#ffffff" fill-rule="evenodd" d="M316.9 512.9L321.9 516.2L320.2 525.2L316.9 529.1L304.7 526.8L300.8 525.2L308.0 521.8L312.4 517.4Z"/>
<path fill="#ffffff" fill-rule="evenodd" d="M347.5 708.9L358.1 715.2L347.5 720.2L342.0 714.7Z"/>
<path fill="#ffffff" fill-rule="evenodd" d="M1033.0 372.9L1034.1 377.9L1029.1 377.3Z"/>
<path fill="#ffffff" fill-rule="evenodd" d="M1011.0 455.8L1013.3 456.4L1012.4 458.6L1010.7 457.5Z"/>
<path fill="#ffffff" fill-rule="evenodd" d="M1426.9 178.7L1449.2 178.7L1449.2 180.5L1426.9 180.5Z"/>
<path fill="#ffffff" fill-rule="evenodd" d="M1415.7 208.6L1427.8 207.5L1437.2 199.0L1449.2 199.0L1449.2 210.4L1425.1 210.4L1415.7 209.7Z"/>
<path fill="#ffffff" fill-rule="evenodd" d="M1430.9 269.4L1436.7 268.9L1437.6 280.1L1438.1 289.0L1434.9 289.0L1433.2 278.3Z"/>
<path fill="#ffffff" fill-rule="evenodd" d="M1084.0 1324.0L1088.3 1327.3L1084.0 1330.3L1079.3 1327.3Z"/>
<path fill="#ffffff" fill-rule="evenodd" d="M1101.3 1307.3L1094.7 1312.7L1092.0 1317.3L1096.0 1320.7L1101.3 1320.7Z"/>
<path fill="#ffffff" fill-rule="evenodd" d="M1154.2 1275.0L1157.5 1275.8L1154.2 1278.0Z"/>
<path fill="#5b53a4" fill-rule="evenodd" d="M226.1 426.9L230.6 434.2L230.6 445.9L226.1 450.9L221.1 444.8L220.2 437.0Z"/>
<path fill="#4e63ac" fill-rule="evenodd" d="M245.9 351.8L249.9 357.3L245.9 361.0L242.1 356.8Z"/>
<path fill="#4e63ac" fill-rule="evenodd" d="M254.0 364.6L257.9 362.9L264.0 367.4L261.2 376.8L256.8 379.6L252.9 374.6L252.1 367.9Z"/>
<path fill="#4e63ac" fill-rule="evenodd" d="M286.8 385.2L289.1 388.0L286.8 391.9L284.8 388.0Z"/>
<path fill="#4e63ac" fill-rule="evenodd" d="M256.2 395.2L258.1 398.0L256.5 401.9L254.3 397.4Z"/>
<path fill="#4e63ac" fill-rule="evenodd" d="M275.7 412.7L285.2 416.9L276.8 424.2L270.1 416.4Z"/>
<path fill="#4e63ac" fill-rule="evenodd" d="M367.0 421.9L372.0 426.4L367.2 431.4L362.0 426.4Z"/>
<path fill="#4e63ac" fill-rule="evenodd" d="M306.9 444.8L309.1 447.0L306.9 448.3L304.9 446.8Z"/>
<path fill="#4e63ac" fill-rule="evenodd" d="M325.8 433.6L329.7 434.7L328.0 438.6L324.7 437.0Z"/>
<path fill="#4e63ac" fill-rule="evenodd" d="M284.1 475.0L296.3 473.9L296.9 476.2L288.0 479.5L285.2 478.4Z"/>
<path fill="#4e63ac" fill-rule="evenodd" d="M305.2 484.5L309.7 486.2L306.9 488.2Z"/>
<path fill="#4e63ac" fill-rule="evenodd" d="M316.9 492.3L320.0 496.2L317.5 505.1L315.2 501.8L315.2 496.2Z"/>
<path fill="#4e63ac" fill-rule="evenodd" d="M306.3 510.1L308.0 514.0L306.3 517.9L304.9 514.6Z"/>
<path fill="#4e63ac" fill-rule="evenodd" d="M302.4 533.5L306.9 531.8L315.8 533.0L326.9 524.0L335.8 531.8L340.8 537.4L343.1 546.3L343.1 561.9L336.9 573.0L332.5 568.6L330.3 564.7L330.8 557.4L325.8 553.0L316.9 539.6L313.6 538.0L306.9 540.2L303.5 536.8Z"/>
<path fill="#4e63ac" fill-rule="evenodd" d="M347.2 583.6L349.2 585.8L347.0 588.1L345.0 585.8Z"/>
<path fill="#4e63ac" fill-rule="evenodd" d="M394.9 476.7L398.2 473.9L402.7 486.2L410.0 492.9L410.0 499.0L399.3 499.5L392.6 493.4L383.7 485.6L388.2 482.3Z"/>
<path fill="#4e63ac" fill-rule="evenodd" d="M408.2 527.4L410.0 529.1L410.0 549.7L406.0 544.1L399.9 537.4Z"/>
<path fill="#4e63ac" fill-rule="evenodd" d="M377.6 592.5L380.4 595.3L377.6 598.1L374.8 595.3Z"/>
<path fill="#4e63ac" fill-rule="evenodd" d="M345.3 623.9L348.6 623.4L350.1 626.7L348.1 633.9L346.4 633.4L345.3 627.8Z"/>
<path fill="#4e63ac" fill-rule="evenodd" d="M345.3 661.2L350.3 661.4L355.7 665.1L346.4 671.0L345.3 666.8Z"/>
<path fill="#4e63ac" fill-rule="evenodd" d="M285.7 683.5L288.5 685.7L284.6 686.3Z"/>
<path fill="#4e63ac" fill-rule="evenodd" d="M245.1 693.5L248.4 693.0L256.8 694.6L254.5 696.3L246.7 696.9L244.0 695.2Z"/>
<path fill="#4e63ac" fill-rule="evenodd" d="M355.9 783.7L359.2 782.8L368.1 784.5L365.9 786.7L358.1 787.0L354.8 785.6Z"/>
<path fill="#4e63ac" fill-rule="evenodd" d="M379.3 804.0L388.2 801.7L399.3 803.4L401.5 805.6L388.2 807.9L381.5 806.8Z"/>
<path fill="#4e63ac" fill-rule="evenodd" d="M410.0 806.8L406.0 809.5L404.3 815.1L410.0 820.7Z"/>
<path fill="#4e63ac" fill-rule="evenodd" d="M315.2 844.6L321.4 843.8L319.7 846.3L316.9 846.8Z"/>
<path fill="#4e63ac" fill-rule="evenodd" d="M410.0 843.0L403.8 845.0L410.0 847.4Z"/>
<path fill="#4e63ac" fill-rule="evenodd" d="M264.6 853.0L269.0 851.3L277.9 853.0L281.3 855.0L276.8 858.0L267.9 858.0L264.3 855.8Z"/>
<path fill="#4e63ac" fill-rule="evenodd" d="M305.8 861.9L310.2 864.7L306.9 868.0L301.3 865.2Z"/>
<path fill="#4e63ac" fill-rule="evenodd" d="M286.8 900.9L296.3 903.1L305.8 912.0L310.8 911.4L315.8 909.8L334.7 909.8L342.0 915.3L338.1 919.8L314.7 919.8L305.8 916.4L294.6 919.2L286.8 918.7L281.8 914.8L284.1 909.8Z"/>
<path fill="#4e63ac" fill-rule="evenodd" d="M346.7 920.9L357.0 925.4L350.3 929.8L345.3 929.8L343.1 925.4Z"/>
<path fill="#4e63ac" fill-rule="evenodd" d="M346.7 921.1L357.0 925.0L348.1 929.8L343.6 925.6Z"/>
<path fill="#4e63ac" fill-rule="evenodd" d="M368.1 935.0L381.5 932.8L399.3 933.1L410.0 932.2L410.0 938.9L399.3 940.0L388.2 943.4L377.0 941.2Z"/>
<path fill="#4e63ac" fill-rule="evenodd" d="M235.8 983.7L237.8 985.7L236.2 987.7L234.3 985.7Z"/>
<path fill="#4e63ac" fill-rule="evenodd" d="M690.3 319.2L691.7 327.5L688.7 328.0Z"/>
<path fill="#4e63ac" fill-rule="evenodd" d="M973.3 208.0L977.5 218.3L973.3 222.0L970.3 216.7Z"/>
<path fill="#4e63ac" fill-rule="evenodd" d="M1018.5 384.5L1022.4 381.8L1032.4 383.4L1038.0 376.7L1044.7 371.2L1054.1 367.8L1055.8 375.6L1061.4 381.8L1072.5 384.5L1079.2 384.5L1093.7 382.9L1098.1 384.5L1102.6 394.6L1113.7 403.5L1121.5 405.7L1128.2 403.5L1128.2 407.9L1122.0 416.8L1122.0 425.7L1128.2 428.0L1150.0 426.3L1150.0 484.8L1147.1 482.5L1145.4 473.6L1133.7 462.5L1115.9 444.7L1107.0 435.8L1107.0 424.6L1079.2 423.5L1073.6 418.0L1070.8 421.8L1063.6 424.1L1055.2 415.7L1044.7 414.1L1033.5 403.5L1022.4 392.3L1017.9 387.9Z"/>
<path fill="#4e63ac" fill-rule="evenodd" d="M1132.1 397.3L1134.3 395.1L1136.5 397.3L1134.3 399.6Z"/>
<path fill="#4e63ac" fill-rule="evenodd" d="M971.7 396.8L977.8 393.5L982.3 392.9L993.4 395.7L1003.5 403.5L1019.0 418.0L1019.6 426.9L1032.4 439.7L1042.4 440.2L1064.7 459.7L1072.5 460.3L1084.7 470.3L1104.8 489.2L1113.7 492.6L1123.7 500.4L1128.2 507.0L1083.6 507.0L1073.6 500.4L1065.8 494.2L1055.8 484.8L1044.7 478.6L1035.7 472.5L1025.7 464.2L1021.3 460.3L1015.7 456.9L1007.9 446.9L1003.5 438.0L996.8 428.0L992.3 418.0L983.4 411.3L975.1 404.6Z"/>
<path fill="#4e63ac" fill-rule="evenodd" d="M966.7 475.9L972.3 470.3L996.8 469.2L1016.8 468.1L1005.7 475.3L1004.0 479.2L1010.1 483.7L1003.5 492.6L992.3 494.2L982.3 492.0L973.4 483.1Z"/>
<path fill="#4e63ac" fill-rule="evenodd" d="M987.9 456.4L992.9 451.9L999.0 456.4L994.0 460.8Z"/>
<path fill="#4e63ac" fill-rule="evenodd" d="M1140.0 428.0L1146.7 428.0L1154.5 432.4L1156.7 436.9L1163.9 440.8L1174.5 433.5L1191.2 449.1L1192.9 454.7L1207.9 466.9L1212.4 469.7L1219.6 477.0L1221.3 484.8L1232.4 495.3L1233.5 507.0L1177.3 507.0L1177.3 495.9L1163.9 482.5L1154.5 490.3L1148.4 485.9L1146.7 475.9L1140.0 469.2Z"/>
<path fill="#4e63ac" fill-rule="evenodd" d="M1205.1 352.8L1210.2 357.3L1205.1 361.7L1200.4 357.3Z"/>
<path fill="#4e63ac" fill-rule="evenodd" d="M1194.6 365.8L1196.2 367.3L1194.6 368.7L1193.2 367.3Z"/>
<path fill="#4e63ac" fill-rule="evenodd" d="M1194.8 410.2L1201.0 416.3L1194.8 423.0L1188.4 416.3Z"/>
<path fill="#4e63ac" fill-rule="evenodd" d="M1214.8 442.2L1219.3 446.3L1214.8 450.8L1210.5 446.3Z"/>
<path fill="#4e63ac" fill-rule="evenodd" d="M1340.0 365.6L1337.1 367.3L1340.0 369.2Z"/>
<path fill="#4e63ac" fill-rule="evenodd" d="M1242.4 507.0L1246.9 503.7L1254.7 503.1L1258.0 507.0Z"/>
<path fill="#4e63ac" fill-rule="evenodd" d="M1266.9 497.6L1275.3 489.8L1292.0 507.0L1266.9 507.0Z"/>
<path fill="#4e63ac" fill-rule="evenodd" d="M1177.3 493.9L1233.5 493.9L1233.5 507.8L1245.8 520.1L1255.8 520.1L1273.6 537.9L1295.3 560.7L1304.8 551.2L1315.9 541.8L1322.6 547.3L1323.7 551.8L1334.3 564.0L1340.0 566.3L1340.0 588.5L1329.3 591.3L1317.1 587.4L1313.7 583.0L1309.3 573.0L1305.9 571.8L1295.3 569.6L1290.9 577.4L1290.3 584.1L1285.9 588.5L1275.3 590.5L1259.7 589.1L1255.3 586.3L1256.4 566.3L1243.6 561.8L1228.0 558.5L1222.4 552.9L1219.1 544.0L1209.6 533.4L1207.9 525.1L1195.7 521.7L1177.3 505.0Z"/>
<path fill="#4e63ac" fill-rule="evenodd" d="M1245.2 505.6L1255.8 502.8L1259.2 506.1L1255.8 508.4L1245.2 508.9Z"/>
<path fill="#4e63ac" fill-rule="evenodd" d="M1266.9 493.9L1284.8 493.9L1292.6 506.1L1286.4 512.8L1275.3 512.8L1268.1 506.1Z"/>
<path fill="#4e63ac" fill-rule="evenodd" d="M1195.1 655.9L1195.7 645.3L1204.6 633.1L1211.3 635.3L1220.2 642.0L1235.8 645.3L1232.4 655.4L1225.7 660.9L1218.0 658.7L1202.4 655.4Z"/>
<path fill="#4e63ac" fill-rule="evenodd" d="M1250.2 635.3L1258.0 627.0L1260.8 623.1L1265.8 614.7L1272.5 624.2L1275.9 635.3L1278.1 643.1L1275.3 649.2L1268.1 652.0L1260.3 649.8L1251.4 644.2Z"/>
<path fill="#4e63ac" fill-rule="evenodd" d="M1195.1 655.9L1196.8 644.5L1200.1 640.0L1218.0 640.0L1225.7 644.5L1236.3 645.0L1232.4 655.6L1225.7 660.9L1218.0 657.8L1206.8 656.7Z"/>
<path fill="#4e63ac" fill-rule="evenodd" d="M1251.4 640.0L1278.1 640.0L1277.5 645.6L1273.6 650.0L1266.9 651.7L1260.3 650.0L1253.6 645.6Z"/>
<path fill="#4e63ac" fill-rule="evenodd" d="M1275.0 669.2L1284.8 669.2L1295.9 671.7L1302.8 675.6L1295.9 680.1L1285.9 681.8L1279.8 678.4L1275.3 673.4Z"/>
<path fill="#4e63ac" fill-rule="evenodd" d="M1308.2 674.7L1317.1 668.7L1318.0 676.7L1315.4 677.9Z"/>
<path fill="#4e63ac" fill-rule="evenodd" d="M1324.3 665.1L1326.9 663.9L1326.0 666.2Z"/>
<path fill="#4e63ac" fill-rule="evenodd" d="M1380.9 159.5L1407.7 186.7L1417.1 187.2L1426.9 176.9L1449.2 176.9L1449.2 159.5Z"/>
<path fill="#4e63ac" fill-rule="evenodd" d="M1409.5 205.0L1408.6 201.5L1411.7 194.3L1415.3 190.7L1425.1 185.4L1427.8 183.6L1449.2 183.6L1449.2 197.0L1437.2 197.0L1427.8 205.9L1416.2 206.4L1411.7 207.7Z"/>
<path fill="#4e63ac" fill-rule="evenodd" d="M1338.9 188.5L1356.7 172.0L1366.1 172.0L1374.2 179.6L1374.2 199.7L1376.9 201.9L1399.2 202.4L1407.2 208.6L1415.3 212.2L1449.2 212.2L1449.2 270.3L1443.0 270.3L1439.4 266.7L1430.5 253.3L1428.7 247.0L1415.3 243.0L1405.5 237.2L1385.8 236.8L1376.9 227.4L1371.5 225.6L1355.9 217.6L1346.9 216.7L1338.9 208.6Z"/>
<path fill="#4e63ac" fill-rule="evenodd" d="M1402.8 258.7L1407.2 255.1L1414.4 257.8L1418.9 264.9L1425.1 270.3L1428.7 274.7L1433.2 289.0L1408.6 289.0L1408.6 274.7L1402.8 269.4Z"/>
<path fill="#4e63ac" fill-rule="evenodd" d="M1439.4 269.4L1449.2 269.4L1449.2 289.0L1439.4 289.0L1438.5 280.1Z"/>
<path fill="#4e63ac" fill-rule="evenodd" d="M1408.6 280.0L1432.3 280.0L1431.4 288.0L1426.9 294.3L1416.2 296.5L1409.9 288.0Z"/>
<path fill="#4e63ac" fill-rule="evenodd" d="M1439.9 280.0L1449.2 280.0L1449.2 295.2L1439.9 288.0Z"/>
<path fill="#4e63ac" fill-rule="evenodd" d="M1449.2 302.8L1440.3 308.6L1440.3 317.5L1449.2 323.8Z"/>
<path fill="#4e63ac" fill-rule="evenodd" d="M1384.9 302.8L1397.4 302.2L1403.7 308.2L1398.3 315.7L1395.6 317.5L1387.1 315.3L1380.0 307.7Z"/>
<path fill="#4e63ac" fill-rule="evenodd" d="M1304.5 335.9L1307.1 335.4L1310.7 337.6L1307.1 339.0L1304.0 338.1Z"/>
<path fill="#4e63ac" fill-rule="evenodd" d="M1321.4 337.2L1325.9 336.1L1328.2 337.6L1325.0 339.0Z"/>
<path fill="#4e63ac" fill-rule="evenodd" d="M1337.5 366.2L1342.0 366.2L1346.5 364.9L1348.3 366.7L1345.6 368.9L1341.1 368.5Z"/>
<path fill="#4e63ac" fill-rule="evenodd" d="M1406.3 381.4L1412.2 386.8L1406.3 392.4L1401.0 386.8Z"/>
<path fill="#4e63ac" fill-rule="evenodd" d="M1170.1 160.0L1201.2 160.0L1202.4 178.9L1194.6 186.2L1184.5 181.7L1175.6 178.9L1166.7 170.0Z"/>
<path fill="#4e63ac" fill-rule="evenodd" d="M1215.7 181.7L1225.2 181.7L1233.5 189.8L1233.0 203.4L1238.0 210.1L1232.4 214.6L1225.7 216.8L1215.2 216.8L1206.8 209.0L1206.8 190.1Z"/>
<path fill="#4e63ac" fill-rule="evenodd" d="M1340.0 187.8L1338.8 189.0L1338.8 209.0L1340.0 210.1Z"/>
<path fill="#4e63ac" fill-rule="evenodd" d="M1304.0 336.0L1306.0 335.0L1310.7 337.3L1307.3 339.0L1304.0 338.7Z"/>
<path fill="#4e63ac" fill-rule="evenodd" d="M1321.0 337.3L1326.0 336.0L1328.0 337.5L1325.3 339.0Z"/>
<path fill="#4e63ac" fill-rule="evenodd" d="M1355.9 420.1L1366.1 420.1L1385.8 438.9L1397.0 439.8L1404.1 446.9L1404.1 467.0L1416.2 479.1L1426.9 480.4L1432.3 486.7L1434.0 494.7L1434.5 508.1L1441.6 515.7L1436.7 521.1L1427.3 522.0L1418.0 513.5L1390.3 485.8L1389.8 475.1L1386.7 474.2L1380.0 466.6L1379.1 455.9L1349.6 426.4Z"/>
<path fill="#4e63ac" fill-rule="evenodd" d="M1346.5 487.1L1355.4 488.0L1362.6 495.6L1356.3 502.3L1346.9 502.3L1339.8 496.1L1342.0 490.3Z"/>
<path fill="#4e63ac" fill-rule="evenodd" d="M1366.3 520.2L1371.9 526.0L1366.3 531.8L1361.2 526.0Z"/>
<path fill="#4e63ac" fill-rule="evenodd" d="M1449.2 461.7L1441.6 467.9L1440.8 475.1L1449.2 481.3Z"/>
<path fill="#4e63ac" fill-rule="evenodd" d="M1300.0 554.0L1316.1 541.9L1321.4 547.7L1324.1 552.2L1329.5 557.5L1334.9 564.7L1335.7 572.7L1342.0 572.3L1351.8 565.6L1362.6 557.5L1367.9 551.3L1376.0 549.9L1385.8 551.3L1389.4 557.5L1388.5 564.7L1384.0 568.7L1376.0 571.4L1367.0 578.1L1346.5 578.5L1339.3 587.9L1329.5 591.5L1325.0 591.5L1316.1 587.0L1312.5 582.6L1308.9 573.6L1300.0 570.0Z"/>
<path fill="#4e63ac" fill-rule="evenodd" d="M1449.2 608.0L1436.7 613.8L1427.8 616.5L1422.9 624.1L1426.9 628.1L1437.6 626.3L1449.2 618.3Z"/>
<path fill="#4e63ac" fill-rule="evenodd" d="M1406.3 643.8L1408.8 645.1L1406.8 646.7L1404.7 645.3Z"/>
<path fill="#4e63ac" fill-rule="evenodd" d="M1393.8 654.0L1397.0 650.9L1399.2 654.0Z"/>
<path fill="#4e63ac" fill-rule="evenodd" d="M1392.9 654.3L1397.0 650.7L1402.3 654.7L1397.4 659.2Z"/>
<path fill="#4e63ac" fill-rule="evenodd" d="M1405.0 644.9L1406.8 643.6L1409.0 645.4L1406.8 647.0Z"/>
<path fill="#4e63ac" fill-rule="evenodd" d="M1300.0 674.0L1302.7 675.7L1300.0 677.5Z"/>
<path fill="#4e63ac" fill-rule="evenodd" d="M1308.0 675.3L1316.1 669.0L1317.4 677.5L1315.2 677.5Z"/>
<path fill="#4e63ac" fill-rule="evenodd" d="M1324.1 665.0L1326.8 663.9L1326.4 665.9Z"/>
<path fill="#4e63ac" fill-rule="evenodd" d="M1344.7 683.8L1346.5 683.3L1359.0 695.9L1356.3 699.9L1351.8 698.1L1346.5 694.5L1345.1 690.0Z"/>
<path fill="#4e63ac" fill-rule="evenodd" d="M1386.2 695.4L1393.8 692.7L1405.5 690.9L1412.6 682.0L1425.1 677.5L1435.8 678.9L1443.0 673.1L1449.2 671.3L1449.2 688.3L1441.2 690.9L1432.3 700.8L1426.5 711.9L1424.2 706.6L1420.6 700.8L1414.4 697.2L1407.2 696.7L1396.5 699.4L1391.2 697.2Z"/>
<path fill="#4e63ac" fill-rule="evenodd" d="M400.0 487.3L406.7 492.3L415.6 495.7L410.0 497.3L404.5 499.0L400.0 499.0Z"/>
<path fill="#4e63ac" fill-rule="evenodd" d="M400.0 535.8L407.2 528.0L411.7 535.8L411.7 545.8L407.6 550.8L402.2 545.8L400.0 540.2Z"/>
<path fill="#4e63ac" fill-rule="evenodd" d="M437.3 563.1L439.0 563.1L439.0 566.9L437.3 566.9Z"/>
<path fill="#4e63ac" fill-rule="evenodd" d="M427.8 631.7L430.6 636.8L428.4 645.7L426.7 645.7L425.4 637.3Z"/>
<path fill="#4e63ac" fill-rule="evenodd" d="M445.1 657.4L447.9 652.9L451.2 657.4L452.3 671.8L447.9 683.0L442.3 674.6L442.9 667.4Z"/>
<path fill="#4e63ac" fill-rule="evenodd" d="M468.2 670.2L472.9 683.0L472.9 695.2L479.1 704.7L473.5 714.2L467.9 719.7L462.4 713.0L461.0 703.0L462.4 681.9Z"/>
<path fill="#4e63ac" fill-rule="evenodd" d="M498.2 727.0L503.0 735.9L498.0 745.9L494.1 735.3Z"/>
<path fill="#4e63ac" fill-rule="evenodd" d="M415.3 792.7L417.9 792.0L423.9 793.0L433.3 794.3L446.7 793.0L452.0 794.3L446.7 795.7L433.3 796.0L423.3 798.3L417.9 799.7L415.9 797.3Z"/>
<path fill="#4e63ac" fill-rule="evenodd" d="M466.8 804.6L471.3 803.7L478.5 804.3L478.5 806.2L471.3 805.7L466.8 805.7Z"/>
<path fill="#4e63ac" fill-rule="evenodd" d="M465.7 822.4L471.3 821.3L486.9 819.6L493.0 824.4L489.1 826.8L478.0 826.3L469.0 828.0L465.1 825.7Z"/>
<path fill="#4e63ac" fill-rule="evenodd" d="M406.0 807.3L410.7 807.0L416.7 808.0L426.7 811.2L436.7 810.2L446.0 814.0L446.7 815.3L438.6 825.3L428.7 833.3L428.0 836.0L430.0 841.3L432.0 844.3L423.3 847.3L413.3 847.7L403.3 845.3L404.0 844.3L410.7 840.0L415.3 835.3L414.7 825.3L404.3 814.7Z"/>
<path fill="#4e63ac" fill-rule="evenodd" d="M436.7 882.5L447.9 878.1L455.7 879.2L466.8 882.0L479.1 875.3L494.7 879.2L500.2 881.4L525.8 885.3L513.6 887.0L494.7 889.8L478.0 889.2L462.4 886.4L450.1 889.2L442.3 888.6Z"/>
<path fill="#4e63ac" fill-rule="evenodd" d="M529.2 885.3L539.2 893.7L529.2 899.8L524.2 894.2Z"/>
<path fill="#4e63ac" fill-rule="evenodd" d="M506.9 903.7L518.0 902.0L523.1 904.8L519.7 917.0L504.7 917.0Z"/>
<path fill="#4e63ac" fill-rule="evenodd" d="M506.3 905.0L522.5 905.0L520.3 911.7L518.0 917.2L509.7 923.4L507.5 916.1Z"/>
<path fill="#4e63ac" fill-rule="evenodd" d="M498.0 923.9L504.7 925.0L500.8 932.8L499.7 935.6L498.0 932.8Z"/>
<path fill="#4e63ac" fill-rule="evenodd" d="M528.1 931.7L535.3 934.2L534.7 935.6L528.1 936.4L526.9 934.5Z"/>
<path fill="#4e63ac" fill-rule="evenodd" d="M400.0 932.6L406.7 932.8L410.0 934.8L406.1 937.3L400.0 937.3Z"/>
<path fill="#4e63ac" fill-rule="evenodd" d="M457.3 931.7L461.0 934.8L457.7 938.2L454.0 934.8Z"/>
<path fill="#4e63ac" fill-rule="evenodd" d="M920.4 504.0L927.0 505.1L937.1 514.6L932.0 521.2L923.7 527.9L912.6 529.6L907.0 516.2L912.6 509.0Z"/>
<path fill="#4e63ac" fill-rule="evenodd" d="M822.4 560.8L831.3 556.3L843.5 554.7L852.4 552.4L891.4 552.2L895.3 555.2L889.2 558.0L875.8 560.2L866.9 560.2L863.0 562.4L862.4 566.9L869.1 573.6L863.6 580.3L855.8 588.1L851.3 593.6L850.2 598.1L858.0 604.8L859.1 615.9L864.7 623.7L865.8 627.0L839.1 627.0L838.0 604.8L835.7 591.4L833.5 582.5L826.8 582.5L822.4 586.9L819.0 584.7L815.7 578.0L815.1 571.4L817.9 564.7Z"/>
<path fill="#4e63ac" fill-rule="evenodd" d="M840.9 615.0L858.1 615.0L865.9 625.0L866.5 636.2L875.9 645.1L871.5 649.5L867.0 648.4L860.4 645.1L854.8 637.3L849.2 633.9L844.8 630.6L840.9 623.9Z"/>
<path fill="#4e63ac" fill-rule="evenodd" d="M803.6 753.1L807.5 752.0L809.7 759.8L815.8 764.2L829.2 763.1L844.8 776.5L841.4 782.0L806.9 782.0L809.7 773.1L805.8 765.3L803.0 758.7Z"/>
<path fill="#4e63ac" fill-rule="evenodd" d="M802.4 770.0L840.2 770.0L845.8 775.6L840.2 778.9L831.3 779.5L824.1 784.5L840.2 800.1L850.2 803.4L853.6 810.1L852.5 815.7L844.1 824.6L841.9 833.5L841.6 845.7L832.4 841.3L821.3 834.6L811.3 824.6L808.2 816.8L807.9 803.4L810.7 795.6L802.4 786.7L800.1 781.1Z"/>
<path fill="#4e63ac" fill-rule="evenodd" d="M832.4 854.1L838.0 855.7L845.8 863.5L842.4 874.1L831.9 879.7L825.2 874.7L826.3 864.7L829.1 858.0Z"/>
<path fill="#4e63ac" fill-rule="evenodd" d="M880.9 804.0L883.1 804.5L882.5 807.3L880.9 806.7Z"/>
<path fill="#4e63ac" fill-rule="evenodd" d="M1078.1 500.0L1123.7 500.0L1129.3 506.7L1129.3 516.7L1138.2 525.6L1141.5 536.7L1143.8 544.5L1139.3 547.9L1132.6 543.4L1124.8 539.0L1117.0 532.3L1110.4 520.0L1105.9 514.5L1099.2 507.8L1089.2 503.3Z"/>
<path fill="#4e63ac" fill-rule="evenodd" d="M992.9 574.1L999.0 573.5L1004.0 575.7L999.0 578.0L992.9 580.7L991.2 576.8Z"/>
<path fill="#4e63ac" fill-rule="evenodd" d="M1073.3 1346.7L1080.0 1342.0L1093.3 1334.0L1096.7 1336.7L1092.0 1344.7L1084.0 1349.3L1074.7 1350.7Z"/>
<path fill="#4e63ac" fill-rule="evenodd" d="M1208.3 1255.8L1220.0 1250.0L1230.0 1245.8L1236.7 1244.2L1250.0 1246.7L1240.0 1250.0L1233.3 1255.0L1223.3 1258.3L1215.0 1257.5Z"/>
<path fill="#4e63ac" fill-rule="evenodd" d="M1173.0 1285.0L1176.7 1283.3L1188.3 1286.7L1183.3 1288.7L1175.0 1288.3Z"/>
<path fill="#4e63ac" fill-rule="evenodd" d="M1154.2 1294.2L1157.5 1303.3L1155.8 1309.2L1151.7 1306.7L1151.7 1301.7Z"/>
<path fill="#4e63ac" fill-rule="evenodd" d="M1123.3 1285.8L1127.5 1286.7L1124.2 1290.8Z"/>
<path fill="#4e63ac" fill-rule="evenodd" d="M1134.2 1310.0L1138.3 1316.7L1134.2 1320.0L1130.8 1316.7Z"/>
<path fill="#4e63ac" fill-rule="evenodd" d="M1090.0 1336.7L1094.2 1334.2L1096.3 1336.7L1093.3 1343.3L1090.0 1345.8Z"/>
<path fill="#4e63ac" fill-rule="evenodd" d="M1225.5 329.8L1233.0 337.4L1225.0 346.0L1217.8 338.0L1218.0 336.5Z"/>
<path fill="#3880b9" fill-rule="evenodd" d="M1038.0 396.8L1044.7 393.5L1053.6 386.2L1061.4 391.8L1064.7 395.7L1064.7 405.7L1072.5 404.6L1075.8 406.8L1083.1 409.6L1097.0 409.6L1108.1 407.4L1117.0 405.7L1124.8 405.7L1122.0 415.7L1119.3 423.0L1124.8 429.1L1139.3 430.2L1150.0 434.7L1150.0 475.9L1147.1 473.6L1134.9 461.4L1117.0 443.6L1109.2 434.7L1109.2 425.7L1104.8 422.4L1081.4 421.8L1074.7 416.8L1073.1 412.4L1071.4 416.8L1065.8 421.3L1056.9 412.4L1045.8 409.0L1040.8 404.6Z"/>
<path fill="#3880b9" fill-rule="evenodd" d="M1078.1 386.8L1093.7 382.9L1097.0 384.5L1101.4 394.6L1094.8 400.1L1089.2 396.2L1082.5 389.0Z"/>
<path fill="#3880b9" fill-rule="evenodd" d="M1002.3 465.8L1004.0 463.6L1006.8 466.4L1004.6 468.1Z"/>
<path fill="#3880b9" fill-rule="evenodd" d="M981.7 405.7L985.6 404.0L994.5 404.6L1003.5 409.0L1012.4 414.6L1016.8 420.2L1016.8 428.0L1028.0 438.0L1032.4 441.9L1042.4 442.4L1048.0 446.9L1063.6 461.4L1071.4 462.5L1083.6 472.5L1103.7 491.4L1109.2 495.9L1105.9 502.6L1103.7 504.8L1094.8 500.4L1083.6 494.8L1075.8 490.3L1066.9 483.7L1056.9 479.2L1046.9 473.6L1038.0 468.1L1030.2 462.5L1021.3 455.8L1012.4 446.9L1007.9 440.2L1004.6 432.4L999.0 422.4L994.5 413.5L991.2 410.2L983.4 408.5Z"/>
<path fill="#3880b9" fill-rule="evenodd" d="M971.2 475.9L976.7 473.1L994.5 473.1L1004.6 483.7L1002.3 487.0L992.3 489.2L983.4 487.6L975.6 481.4Z"/>
<path fill="#3880b9" fill-rule="evenodd" d="M1140.0 433.0L1145.6 434.7L1154.5 441.9L1163.9 444.7L1174.5 440.8L1184.5 453.6L1186.8 456.9L1205.7 468.1L1211.3 472.5L1218.0 479.2L1225.7 493.7L1229.1 498.1L1229.1 507.0L1180.1 507.0L1179.0 494.8L1163.9 480.3L1153.4 484.8L1148.9 477.0L1140.0 466.9Z"/>
<path fill="#3880b9" fill-rule="evenodd" d="M1194.8 412.6L1198.5 416.6L1194.8 420.4L1191.0 416.6Z"/>
<path fill="#3880b9" fill-rule="evenodd" d="M1269.7 498.1L1275.3 492.8L1288.1 507.0L1269.7 507.0Z"/>
<path fill="#3880b9" fill-rule="evenodd" d="M1180.1 493.9L1229.1 493.9L1230.8 503.9L1232.4 509.5L1244.7 521.7L1254.7 521.7L1269.2 536.2L1273.6 545.1L1272.0 555.1L1266.9 557.9L1261.4 557.4L1246.9 552.3L1234.7 549.6L1224.6 542.9L1216.8 535.1L1210.2 526.2L1204.6 520.1L1195.7 518.9L1180.1 503.9Z"/>
<path fill="#3880b9" fill-rule="evenodd" d="M1269.7 493.9L1283.7 493.9L1290.3 506.1L1285.3 511.1L1275.9 511.5L1269.7 505.0Z"/>
<path fill="#3880b9" fill-rule="evenodd" d="M1305.4 555.1L1313.7 557.9L1327.1 565.2L1325.4 570.2L1319.8 575.7L1317.1 575.7L1302.0 563.8Z"/>
<path fill="#3880b9" fill-rule="evenodd" d="M1265.6 640.9L1266.9 644.8L1265.6 646.2L1264.2 644.8Z"/>
<path fill="#3880b9" fill-rule="evenodd" d="M1265.6 641.1L1266.9 644.5L1265.6 645.8L1264.2 644.5Z"/>
<path fill="#3880b9" fill-rule="evenodd" d="M1384.0 159.5L1408.6 184.9L1418.0 184.3L1425.1 177.3L1427.8 175.1L1449.2 175.1L1449.2 159.5Z"/>
<path fill="#3880b9" fill-rule="evenodd" d="M1412.6 199.7L1416.2 194.3L1425.1 187.2L1428.7 185.4L1449.2 185.4L1449.2 194.3L1437.6 194.8L1427.8 203.3L1416.2 203.7L1413.0 201.5Z"/>
<path fill="#3880b9" fill-rule="evenodd" d="M1341.1 189.4L1357.2 175.1L1365.7 175.1L1371.0 180.0L1371.0 199.7L1376.0 204.6L1398.3 204.6L1407.2 212.2L1415.3 214.4L1449.2 214.4L1449.2 268.5L1443.9 268.5L1441.2 264.9L1432.3 252.4L1430.5 246.2L1416.2 240.8L1406.3 235.0L1386.7 234.1L1377.7 225.6L1372.4 223.4L1356.3 215.3L1347.8 214.0L1341.1 207.7Z"/>
<path fill="#3880b9" fill-rule="evenodd" d="M1410.8 276.5L1417.1 270.3L1425.1 278.3L1426.9 289.0L1410.8 289.0Z"/>
<path fill="#3880b9" fill-rule="evenodd" d="M1441.2 270.3L1449.2 270.3L1449.2 289.0L1442.1 289.0Z"/>
<path fill="#3880b9" fill-rule="evenodd" d="M1411.3 280.0L1426.9 280.0L1425.1 288.9L1417.1 294.3L1412.2 288.0Z"/>
<path fill="#3880b9" fill-rule="evenodd" d="M1441.6 280.0L1449.2 280.0L1449.2 293.4L1443.0 288.9Z"/>
<path fill="#3880b9" fill-rule="evenodd" d="M1449.2 305.5L1442.1 309.5L1442.5 316.6L1449.2 321.6Z"/>
<path fill="#3880b9" fill-rule="evenodd" d="M1385.8 304.1L1397.0 304.1L1401.4 307.9L1398.7 311.7L1391.2 312.2L1383.6 308.4Z"/>
<path fill="#3880b9" fill-rule="evenodd" d="M1406.8 385.0L1409.0 386.8L1406.8 389.0L1404.7 386.8Z"/>
<path fill="#3880b9" fill-rule="evenodd" d="M1173.4 161.1L1197.9 161.1L1201.0 168.9L1200.7 178.4L1194.6 183.9L1184.5 177.8L1174.5 173.4L1169.5 169.5Z"/>
<path fill="#3880b9" fill-rule="evenodd" d="M1216.8 183.9L1224.6 183.9L1231.3 190.1L1231.3 202.9L1233.0 209.0L1225.7 215.1L1215.7 215.1L1209.0 209.0L1209.0 192.3Z"/>
<path fill="#3880b9" fill-rule="evenodd" d="M1365.7 427.3L1369.7 428.6L1385.8 442.4L1395.6 442.9L1399.6 446.5L1399.6 467.9L1415.3 482.2L1425.1 491.2L1428.7 494.7L1427.8 505.5L1423.3 506.8L1417.1 506.3L1395.6 486.7L1393.8 475.1L1388.0 471.5L1384.0 466.1L1383.1 456.3L1363.4 437.5L1363.4 432.2Z"/>
<path fill="#3880b9" fill-rule="evenodd" d="M1355.0 425.0L1357.2 424.1L1366.1 426.4L1358.1 428.6L1354.1 426.8Z"/>
<path fill="#3880b9" fill-rule="evenodd" d="M1345.6 494.3L1350.0 494.5L1356.1 495.6L1355.4 497.0L1347.4 497.4L1345.1 496.1Z"/>
<path fill="#3880b9" fill-rule="evenodd" d="M1366.3 524.2L1368.1 526.0L1366.3 527.6L1364.5 526.0Z"/>
<path fill="#3880b9" fill-rule="evenodd" d="M1305.8 555.3L1326.8 566.0L1325.9 569.6L1319.7 575.9L1316.1 575.9L1301.8 564.2Z"/>
<path fill="#3880b9" fill-rule="evenodd" d="M468.2 703.0L469.3 704.7L468.2 707.5L467.0 705.2Z"/>
<path fill="#3880b9" fill-rule="evenodd" d="M825.7 566.9L835.7 563.0L849.1 561.9L854.7 565.8L860.2 570.2L864.7 573.6L858.0 580.3L853.5 582.5L838.0 581.4L832.4 578.0L826.8 576.9L820.7 577.5L820.1 572.5L822.4 568.0Z"/>
<path fill="#3880b9" fill-rule="evenodd" d="M851.3 604.8L852.4 613.7L854.7 620.4L852.4 621.5L850.2 615.9L849.6 609.2Z"/>
<path fill="#3880b9" fill-rule="evenodd" d="M849.2 615.0L853.1 615.0L852.6 619.5L850.9 620.0Z"/>
<path fill="#3880b9" fill-rule="evenodd" d="M1092.5 500.0L1105.9 500.0L1103.7 502.8L1094.8 501.3Z"/>
<path fill="#3880b9" fill-rule="evenodd" d="M1113.7 502.8L1117.9 506.1L1114.3 510.9L1109.2 506.1Z"/>
<path fill="#3880b9" fill-rule="evenodd" d="M1123.7 516.1L1128.2 523.4L1134.9 530.1L1138.2 535.6L1134.9 540.6L1128.2 537.9L1122.6 531.2L1119.8 523.4Z"/>
<path fill="#3880b9" fill-rule="evenodd" d="M1225.5 333.0L1228.8 336.0L1228.8 338.5L1225.2 342.0L1221.0 338.5L1221.0 336.0L1223.0 335.0Z"/>
<path fill="#60bba8" fill-rule="evenodd" d="M1079.7 416.3L1083.6 414.1L1094.8 414.1L1105.9 412.9L1114.8 414.1L1115.9 416.8L1114.3 421.8L1103.7 419.1L1083.1 419.1Z"/>
<path fill="#60bba8" fill-rule="evenodd" d="M1063.6 414.6L1065.3 416.8L1063.6 418.2L1061.9 416.3Z"/>
<path fill="#60bba8" fill-rule="evenodd" d="M1123.7 436.9L1137.1 445.8L1134.9 454.7L1123.2 447.5Z"/>
<path fill="#60bba8" fill-rule="evenodd" d="M1012.4 433.0L1015.7 433.5L1019.9 436.7L1016.8 438.6L1013.5 439.7L1011.8 436.9Z"/>
<path fill="#60bba8" fill-rule="evenodd" d="M1029.1 446.3L1034.6 444.7L1042.4 444.1L1046.0 446.9L1044.7 453.6L1044.1 455.8L1038.0 453.6L1033.5 451.4Z"/>
<path fill="#60bba8" fill-rule="evenodd" d="M1041.9 460.8L1046.9 456.9L1053.6 455.8L1060.2 461.4L1068.0 465.8L1073.6 473.6L1079.7 476.4L1074.7 478.6L1068.0 478.6L1053.6 477.5L1046.9 470.3L1042.4 464.7Z"/>
<path fill="#60bba8" fill-rule="evenodd" d="M1182.9 466.4L1186.8 465.8L1195.7 471.4L1205.7 475.3L1225.7 494.2L1225.7 507.0L1201.8 507.0L1193.5 500.4L1184.5 493.7L1174.0 485.9L1174.0 477.5Z"/>
<path fill="#60bba8" fill-rule="evenodd" d="M1194.6 415.5L1195.7 416.8L1194.3 417.7L1193.5 416.4Z"/>
<path fill="#60bba8" fill-rule="evenodd" d="M1275.0 495.9L1275.9 496.8L1275.0 497.5Z"/>
<path fill="#60bba8" fill-rule="evenodd" d="M1186.8 493.9L1225.7 493.9L1225.7 511.7L1212.4 511.7L1204.6 509.5L1196.8 502.8Z"/>
<path fill="#60bba8" fill-rule="evenodd" d="M1392.0 162.1L1396.5 166.6L1402.8 169.3L1411.7 169.7L1425.1 167.5L1438.1 163.5L1438.1 159.5L1392.0 159.5Z"/>
<path fill="#60bba8" fill-rule="evenodd" d="M1429.1 238.6L1436.7 232.7L1443.0 231.0L1449.2 231.0L1449.2 268.5L1443.0 264.9L1434.9 258.2L1436.3 252.4L1439.9 248.4L1434.0 243.0Z"/>
<path fill="#60bba8" fill-rule="evenodd" d="M1414.4 278.3L1417.1 275.2L1419.7 278.3L1419.7 289.0L1414.4 289.0Z"/>
<path fill="#60bba8" fill-rule="evenodd" d="M1414.4 280.0L1419.7 280.0L1419.3 287.1L1416.6 289.4L1415.3 285.4Z"/>
<path fill="#60bba8" fill-rule="evenodd" d="M1184.0 169.1L1195.7 169.1L1195.9 177.8L1196.8 179.5L1194.6 180.9L1190.1 176.7Z"/>
<path fill="#60bba8" fill-rule="evenodd" d="M1215.2 191.0L1226.0 199.5L1226.0 209.9L1214.1 209.9L1214.1 193.4Z"/>
<path fill="#5b53a4" fill-rule="evenodd" d="M1070.8 395.1L1074.7 391.8L1083.6 393.5L1088.1 397.9L1097.6 407.4L1094.8 408.5L1082.5 409.0L1074.7 402.4Z"/>
<path fill="#ffffff" fill-rule="evenodd" d="M1073.1 395.7L1074.7 394.6L1083.6 395.7L1094.8 406.8L1083.1 407.4L1076.9 401.2Z"/>
<path fill="#ffffff" fill-rule="evenodd" d="M850.8 595.3L854.7 593.1L855.8 596.4L853.0 597.5Z"/>
</g>
<g clip-path="url(#ax)" fill="none" stroke="#000" stroke-width="2.1" stroke-linejoin="round" stroke-linecap="round">
<path d="M255.7 300.0L257.9 300.6L263.5 306.1L273.5 315.6L277.9 321.2L281.3 329.0L285.2 337.9L284.1 339.0L286.3 341.8L288.0 346.8L290.2 348.8L293.5 348.8L296.3 350.7L299.1 355.1L301.9 360.7L304.1 361.0L304.7 363.5L303.0 364.6L302.4 365.7L308.0 379.1L312.4 389.1L315.8 396.3L318.6 404.7L321.4 414.7L322.7 421.4L324.7 428.1L326.9 431.4L329.2 432.5L328.0 434.2L326.4 435.3L327.5 438.6L332.5 448.1L335.8 454.8L337.5 460.9L339.7 463.1L343.1 467.0"/>
<path d="M334.7 455.0L336.9 459.5L339.7 463.4L342.5 467.2L343.6 473.9L346.4 478.9L349.2 482.8L351.4 488.4L353.1 495.1L355.3 501.8L357.0 505.7L358.7 507.3L361.4 506.8L364.2 504.6L363.7 500.7L360.9 497.9L363.1 499.5L366.5 501.2L365.9 504.6L363.7 507.3L359.2 509.6L358.1 510.7L358.7 516.2L360.3 521.8L363.1 527.4L365.9 533.0L368.1 541.9L369.8 549.7L371.5 560.8L372.6 571.9L373.1 579.7L374.8 588.6L377.0 598.7L379.8 608.7L383.7 622.0"/>
<path d="M362.6 514.0L365.3 517.4L367.6 519.6L368.7 524.0L370.4 526.3L370.9 531.8L373.7 536.8L377.0 538.0L380.4 541.9L383.7 546.3L385.9 551.9L385.4 556.3L383.7 559.7L384.8 564.1L387.1 568.6L388.2 573.0L388.7 580.8L387.1 584.2L389.3 585.8L393.7 585.3L399.3 589.2L396.0 593.6L392.6 594.2L388.2 593.1L380.4 591.4L379.8 587.5L382.0 580.8L383.7 575.3L384.8 569.7L383.2 565.2L381.5 561.9L380.4 555.2L379.8 568.6L378.7 568.6L377.0 555.2L375.9 547.4L372.6 547.4L370.4 549.7L368.1 543.0L365.9 537.4L368.1 535.7L370.4 536.8L371.5 540.7"/>
<path d="M362.6 514.0L362.0 517.4L363.7 524.0L365.3 530.7L367.0 533.0"/>
<path d="M379.3 610.0L382.0 616.7L387.1 626.7L392.6 637.8L397.1 646.7L401.5 656.8L403.2 661.2"/>
<path d="M387.6 624.5L391.0 626.7L393.7 633.4L396.5 633.9L396.0 641.2L394.3 639.0L392.6 640.1L389.8 632.3L387.6 627.8Z"/>
<path d="M217.5 235.8L222.5 244.2L225.8 253.3L225.0 255.8L226.7 255.8L228.3 251.7L229.7 252.5L228.7 258.3L232.5 268.3L235.0 275.0L235.8 279.2L238.3 280.8L240.0 280.0L242.5 282.5L244.2 281.7L245.8 279.2L249.5 277.2L253.3 280.0L251.7 282.5L247.5 281.7L245.0 284.2L245.8 287.0L250.0 287.5L253.3 289.7L257.5 288.3L260.8 286.2L262.0 292.5L258.3 292.5L254.2 291.7L250.8 291.3L250.5 293.3L253.0 297.5L255.8 300.8"/>
<path d="M867.0 161.7L866.7 176.7L865.3 186.7L862.5 195.8L861.7 200.0L858.3 205.0L856.7 213.3L853.3 222.5L848.3 231.7L844.2 238.3L840.8 240.8L837.5 246.7L834.2 252.5L831.7 255.0L826.7 255.8L830.0 253.3L833.7 251.7L830.0 258.3L824.2 266.7L820.0 275.0L816.3 279.7L816.3 285.0L813.3 293.3L810.8 300.0L809.2 307.5L806.7 313.3L804.7 324.2L802.5 334.2L803.0 340.8L805.8 350.0L806.7 354.2L808.3 350.8L810.3 352.5L810.8 359.2L808.3 360.8L803.3 360.0L799.2 363.3L792.5 370.3L795.8 370.0L804.2 362.5L810.0 363.0L812.5 365.0L813.3 376.7L815.3 386.7L815.3 400.0L814.2 410.0"/>
<path d="M403.2 661.3L403.9 667.4L406.7 670.7L416.7 678.5L422.3 687.4L426.7 691.9L430.1 697.4L435.6 703.0L438.4 708.6L444.5 713.6L450.1 720.8L455.7 728.6L460.1 733.6L469.0 739.8L478.0 746.4L484.6 753.1L489.1 757.0L494.7 759.8L498.6 762.0"/>
<path d="M400.0 655.7L402.2 660.1L404.5 661.8L406.7 659.0L410.0 656.8L413.4 655.7L418.9 654.9L419.8 656.0L414.5 657.4L417.8 658.5L418.4 659.8L413.4 659.6L409.5 660.7L407.8 662.9L410.6 665.2L413.9 664.9L412.8 666.3L407.8 667.4L405.0 666.3L403.9 667.4"/>
<path d="M534.7 762.0L544.8 759.8L554.8 758.1L560.4 750.9L570.4 745.3L582.6 738.1L591.5 734.2L594.3 725.8L600.0 719.7"/>
<path d="M479.6 750.0L484.6 754.5L489.1 757.2L493.5 759.5L498.6 763.9L506.9 766.7L515.8 768.9L524.2 770.9L530.8 770.0L531.4 767.8L529.7 765.6L532.5 763.4L538.1 761.1L547.0 759.1L554.8 757.8L558.1 755.0L560.9 751.7L564.8 750.0"/>
<path d="M790.0 496.8L783.8 495.7L778.2 494.6L777.1 492.3L781.5 490.7L779.3 489.6L774.9 490.1L773.7 491.2L768.2 492.9L763.7 493.2L760.9 491.8L758.2 490.7L755.9 491.8L750.4 495.1L745.9 497.7L743.1 500.7L742.3 503.5L742.6 506.3L739.8 507.4L738.1 510.2L738.7 518.0L739.8 523.5L744.2 526.9L739.2 529.1L733.7 534.7L728.6 541.3L724.2 549.7L720.8 554.7L720.3 556.4L714.2 561.4L709.7 566.9L706.4 572.0L706.4 575.3L704.7 578.1L701.9 580.9L700.2 584.8L699.7 590.3L698.0 595.9L698.6 600.4L700.2 603.7L703.0 607.0"/>
<path d="M814.2 410.0L815.5 440.0L815.1 460.0"/>
<path d="M815.1 460.0L816.2 466.7L816.8 476.7L817.0 486.7L816.2 493.4L814.6 496.2L809.0 497.9L805.7 498.4"/>
<path d="M805.7 498.4L805.1 494.0L796.7 491.7L786.7 490.1L782.3 488.7L774.5 489.2L771.1 491.7L764.5 493.4L760.0 492.3"/>
<path d="M776.7 491.7L783.4 490.1L804.5 494.0L805.7 498.4L803.4 499.9L777.8 494.7Z"/>
<path d="M785.6 491.4L793.4 493.4L804.0 496.2"/>
<path d="M815.7 561.9L817.9 560.8L820.7 560.8L822.4 559.1L826.8 555.8L831.3 553.3L838.0 553.3L848.0 554.1L852.4 552.7L860.2 552.2L865.2 553.5L867.5 558.0L871.4 563.6L878.0 571.4L884.7 577.5L890.3 581.4L898.1 588.1L904.8 593.6L910.3 598.6L915.9 603.7L921.5 608.1L925.9 611.4L928.2 615.3L931.5 618.1L932.3 619.5"/>
<path d="M924.8 616.5L927.0 618.1L930.4 620.9L932.0 619.2L929.3 617.0L925.9 616.5L924.8 616.5"/>
<path d="M849.1 555.8L850.2 558.6L854.7 561.3L858.0 560.8L860.2 560.2L866.9 565.8L872.5 572.5L878.0 576.9L883.6 580.8L888.1 583.6L889.7 581.9"/>
<path d="M860.8 560.8L866.9 566.9L873.6 574.7L881.4 580.3L888.1 584.2"/>
<path d="M822.4 563.0L824.6 566.9L826.8 569.7L832.4 572.5L838.0 575.3L844.6 578.0L848.0 576.4L845.7 575.3L849.1 575.8L853.5 578.6L855.2 576.9L854.7 574.7L858.0 575.8L865.8 579.7L871.4 583.6L878.0 589.2L882.5 590.3L888.1 589.2L893.6 591.4L900.3 595.9L907.0 600.3L909.8 599.8"/>
<path d="M815.7 561.9L814.6 566.9L815.7 572.5L817.9 576.9L821.2 579.2L826.8 578.0L830.2 576.9L826.8 575.8L822.4 573.6L820.1 570.2L819.0 565.8L820.1 562.4L822.4 563.0"/>
<path d="M840.2 580.8L844.6 582.5L849.1 585.8L854.7 590.3L858.0 595.3L855.8 597.5L853.5 600.3L848.0 602.5L842.4 604.8L840.2 608.1L841.3 613.7L843.5 615.9L848.0 618.1L848.0 627.0"/>
<path d="M840.2 580.8L842.4 581.9L849.1 580.8L854.7 582.5L858.0 583.6L855.8 581.4"/>
<path d="M858.0 586.9L862.4 589.2L865.2 592.5L867.5 594.7L866.9 598.1L869.1 599.8L878.0 596.4L885.8 593.1L893.6 593.6L902.5 598.1L909.2 600.3"/>
<path d="M790.6 586.4L792.9 589.2L797.9 589.7L799.9 592.5L798.4 595.3L793.4 595.9L790.1 593.6L789.5 589.2Z"/>
<path d="M711.1 615.0L715.6 617.2L722.3 619.5L731.2 620.3L739.0 620.0L744.5 617.2L749.0 616.1L751.8 616.7L751.2 620.6L752.3 623.9L755.7 627.2L760.1 630.6L765.7 635.6L763.5 637.3L760.1 635.0L755.7 630.6L750.1 626.7L744.5 623.9L736.7 622.2L730.1 621.5L725.6 623.4L720.0 623.9L714.5 622.2L707.8 620.6L703.3 621.7L700.0 624.5"/>
<path d="M795.8 643.4L800.2 642.3L805.8 643.4L811.4 646.2L816.9 649.5L822.5 652.9L819.7 654.0L816.9 652.3L818.6 655.6L821.9 659.0L820.3 659.3L815.8 656.8L811.4 652.3L806.9 648.4L802.4 646.2L798.0 645.6Z"/>
<path d="M842.5 615.0L844.8 616.1L848.1 617.2L848.1 623.9L845.9 632.8L842.5 641.7L838.1 650.6L833.6 655.6L826.9 660.7L822.5 662.9L823.6 668.5L824.2 677.4L825.8 684.0L826.9 690.7L826.4 698.5L824.2 706.3L821.4 710.2L818.0 712.4L816.4 715.2L816.4 721.9L814.1 728.6L813.0 735.3L811.9 741.9L810.2 748.6L809.7 754.2L810.8 759.8L809.7 765.3L807.5 769.8L808.6 773.1L811.9 777.6L812.5 779.8L809.1 781.5L804.7 782.0"/>
<path d="M805.8 736.4L803.6 740.8L800.8 746.4L798.0 750.3L795.5 753.1L796.3 758.7L795.2 764.2L795.8 770.9L797.4 777.6L798.6 782.0"/>
<path d="M805.8 736.9L804.1 742.5L802.4 746.4L805.8 747.5L804.7 752.0L802.4 755.3L801.9 759.8L800.8 764.2L800.2 768.7L801.3 773.1L800.8 777.6L800.2 782.0"/>
<path d="M702.5 606.7L708.1 611.7L713.6 616.2"/>
<path d="M699.7 624.0L695.8 624.0L690.2 625.1L685.8 627.3L680.2 629.0L675.8 632.3L668.0 632.9L665.7 634.5L664.6 637.3L661.3 638.4L646.8 640.1L640.1 641.8L634.6 644.6L627.9 649.0L621.2 654.0L614.5 659.6L610.6 665.2L607.3 671.8L606.7 678.0L606.2 683.5L605.1 685.8L610.1 684.1L611.2 681.9L611.7 684.7L610.1 686.9L606.2 688.6L603.9 692.4L601.2 697.5L598.9 698.0L600.6 700.2L602.3 703.6L602.8 708.0L601.7 713.6L601.2 719.2"/>
<path d="M795.7 770.0L797.9 776.7L800.7 784.5L803.5 793.4L805.7 803.4L807.4 814.5L808.2 822.3L806.8 827.9L805.7 829.6L806.8 832.4L807.9 842.4L809.6 854.6L811.3 865.8L812.9 875.8L811.3 879.1L809.9 882.5L812.4 888.0L814.6 895.8L816.3 902.5L815.7 905.9L814.1 909.2L814.1 918.1L815.7 925.9L818.0 932.6L819.6 937.0"/>
<path d="M800.1 770.0L802.4 773.3L800.7 776.7L802.4 779.5L806.8 781.1L811.3 780.6L812.9 777.8L811.3 773.3L809.0 770.0"/>
<path d="M812.9 879.7L815.7 881.4L816.3 885.8L814.8 889.2L812.9 886.9L812.2 882.5Z"/>
<path d="M815.7 925.0L818.0 931.7L822.4 942.8L826.9 952.8L830.2 961.7L830.8 967.3L829.1 969.5L830.8 972.9L832.4 979.6L834.7 985.1L836.3 991.8L836.9 995.2L840.2 1003.0L844.7 1011.9L850.2 1017.4L855.8 1023.0L858.6 1025.2L859.7 1024.1L863.6 1026.9L871.4 1029.7L875.9 1032.5L877.5 1030.8L880.3 1032.5L885.9 1033.0L888.1 1031.9L889.8 1034.7L892.6 1036.4L900.4 1035.2L907.0 1038.0L913.7 1033.6L917.1 1033.0L922.1 1033.6L927.1 1029.1L933.8 1024.1L937.1 1023.0L940.0 1023.6"/>
<path d="M932.3 618.4L929.0 617.8L925.6 616.7L924.5 617.8L926.7 620.6L930.1 622.8L933.4 625.6L934.5 623.4L932.3 621.7L935.6 622.3L938.4 629.0L942.9 637.3L941.2 636.7L937.9 636.2L936.7 638.4L940.1 639.5L942.3 642.9L944.5 641.2L946.8 646.8L949.0 650.7L951.2 653.5L950.1 654.6L946.8 652.3L942.3 651.2L944.5 654.0L947.9 656.8L949.6 660.7L946.8 662.4L947.9 664.0L951.2 664.0L953.5 661.8L954.0 657.9L956.8 660.7L962.4 669.0L964.6 671.3L967.9 672.9L970.2 676.3L971.8 680.2L975.7 683.0L978.0 688.0L979.1 692.4L981.8 691.9L982.4 693.5L986.3 698.0L986.6 701.3L984.6 703.6L983.0 704.1L985.7 705.2L988.0 709.7L988.5 712.5L985.7 713.6L983.5 715.8L981.3 715.3L978.0 713.6L975.2 714.7L973.5 716.9L975.7 717.5L978.0 715.8L980.2 718.0L983.5 721.4L988.0 722.5L993.0 721.9L994.7 720.3L993.0 717.5L996.9 715.8L1000.2 716.4L1003.0 719.7L1004.1 723.6L1005.2 729.2L1002.4 729.7L1000.8 731.4L1001.9 735.9L1005.2 737.0L1006.9 734.7L1006.3 731.4L1007.5 738.1L1009.7 747.0L1011.9 755.9L1013.6 763.7L1014.7 767.0"/>
<path d="M1011.4 767.0L1010.2 764.8L1008.6 760.4L1006.9 755.9L1005.8 760.4L1007.5 764.8L1008.6 767.0"/>
<path d="M1014.7 767.0L1015.8 766.1L1016.9 770.6L1019.1 773.9L1021.9 778.4L1023.6 778.9L1025.2 780.6L1027.5 780.1L1028.0 784.0L1030.2 787.3L1031.4 790.1L1029.1 792.3L1029.7 795.6L1031.9 799.0L1034.1 800.7L1036.9 800.7L1038.0 803.4L1041.4 807.3L1045.8 812.3L1048.1 812.3L1049.7 815.1L1053.6 822.9L1058.1 829.1L1059.8 837.4L1060.3 843.0L1061.4 847.4L1063.7 851.9L1065.9 857.4L1067.6 863.6L1067.0 871.9L1067.0 883.1L1066.8 892.0L1068.3 899.8L1067.6 905.3L1065.3 913.1L1063.1 922.0"/>
<path d="M1045.8 814.0L1041.9 815.7L1038.6 813.5L1036.4 811.2L1033.6 810.1L1031.4 812.3L1032.5 815.1L1035.8 814.6L1038.0 815.1L1040.3 817.4L1043.6 820.7L1045.3 824.0L1045.8 826.3L1047.5 825.2L1050.3 828.5L1052.5 833.0L1053.1 839.6L1052.0 841.9L1053.6 844.1L1053.1 847.4L1056.4 848.0L1057.5 853.0L1058.6 849.7L1059.2 845.2L1057.5 843.0L1055.3 839.6L1055.3 833.0L1053.1 828.5L1050.3 822.9L1048.1 817.4L1046.9 812.9"/>
<path d="M1008.0 765.0L1011.3 768.4L1014.1 767.2L1012.4 762.8"/>
<path d="M1063.1 922.0L1061.5 927.8L1060.9 933.4L1058.1 940.6L1054.2 946.2L1055.3 949.0L1054.2 952.9L1049.2 961.2L1042.5 970.7L1038.1 975.1L1030.8 980.2L1025.8 982.2L1020.3 986.3L1011.4 993.0L1002.4 999.6L998.0 1002.2L991.3 1004.7L983.5 1008.0L982.2 1005.8L980.2 1006.3L979.6 1009.7L972.4 1013.6L966.8 1014.7L959.0 1016.3L952.3 1018.6L946.8 1019.7L942.3 1021.4L940.1 1023.6"/>
</g>
<g clip-path="url(#ax)" stroke="#b0b0b0" stroke-opacity="0.24" stroke-width="2.08" fill="none">
<path d="M398.00 160.5V1398.5"/>
<path d="M585.00 160.5V1398.5"/>
<path d="M771.00 160.5V1398.5"/>
<path d="M958.00 160.5V1398.5"/>
<path d="M1144.00 160.5V1398.5"/>
<path d="M1330.00 160.5V1398.5"/>
<path d="M216.5 283.00H1447.5"/>
<path d="M216.5 469.00H1447.5"/>
<path d="M216.5 656.00H1447.5"/>
<path d="M216.5 842.00H1447.5"/>
<path d="M216.5 1029.00H1447.5"/>
<path d="M216.5 1215.00H1447.5"/>
</g>
<rect x="216.5" y="160.5" width="1231.0" height="1238.0" fill="none" stroke="#000" stroke-width="3.1"/>
<g shape-rendering="crispEdges">
<rect x="1524.0" y="1275.31" width="63.3" height="133.29" fill="#5b53a4"/>
<rect x="1524.0" y="1142.02" width="63.3" height="133.79" fill="#4e63ac"/>
<rect x="1524.0" y="1008.73" width="63.3" height="133.79" fill="#3880b9"/>
<rect x="1524.0" y="875.44" width="63.3" height="133.79" fill="#60bba8"/>
<rect x="1524.0" y="742.16" width="63.3" height="133.79" fill="#bae3a1"/>
<rect x="1524.0" y="608.87" width="63.3" height="133.79" fill="#f5fbaf"/>
<rect x="1524.0" y="475.58" width="63.3" height="133.79" fill="#fee18d"/>
<rect x="1524.0" y="342.29" width="63.3" height="133.79" fill="#fa9b58"/>
<rect x="1524.0" y="209.00" width="63.3" height="133.79" fill="#d43d4f"/>
</g>
<path d="M1524.0 209.0L1555.65 149.5L1587.3 209.0Z" fill="#9e0142"/>
<path d="M1524.0 1408.6V209.0L1555.65 149.5L1587.3 209.0V1408.6Z" fill="none" stroke="#000" stroke-width="3.3" stroke-linejoin="miter"/>
<g stroke="#000" stroke-width="3.33">
<path d="M1587.3 1409.10H1603.1"/>
<path d="M1587.3 1275.81H1603.1"/>
<path d="M1587.3 1142.52H1603.1"/>
<path d="M1587.3 1009.23H1603.1"/>
<path d="M1587.3 875.94H1603.1"/>
<path d="M1587.3 742.66H1603.1"/>
<path d="M1587.3 609.37H1603.1"/>
<path d="M1587.3 476.08H1603.1"/>
<path d="M1587.3 342.79H1603.1"/>
<path d="M1587.3 209.50H1603.1"/>
</g>
<g fill="#000" stroke="none" font-family="'Liberation Mono', 'DejaVu Sans Mono', monospace" font-size="41.7">
<text x="1616" y="1424.4" text-anchor="start">2</text>
<text x="1616" y="1291.1" text-anchor="start">5</text>
<text x="1616" y="1157.8" text-anchor="start">10</text>
<text x="1616" y="1024.5" text-anchor="start">20</text>
<text x="1616" y="891.2" text-anchor="start">40</text>
<text x="1616" y="758.0" text-anchor="start">60</text>
<text x="1616" y="624.7" text-anchor="start">80</text>
<text x="1616" y="491.4" text-anchor="start">100</text>
<text x="1616" y="358.1" text-anchor="start">120</text>
<text x="1616" y="224.8" text-anchor="start">150</text>
<text x="398" y="1451.8" text-anchor="middle">76.5°E</text>
<text x="585" y="1451.8" text-anchor="middle">78°E</text>
<text x="771" y="1451.8" text-anchor="middle">79.5°E</text>
<text x="958" y="1451.8" text-anchor="middle">81°E</text>
<text x="1144" y="1451.8" text-anchor="middle">82.5°E</text>
<text x="1330" y="1451.8" text-anchor="middle">84°E</text>
<text x="196" y="295.5" text-anchor="end">12°N</text>
<text x="196" y="481.5" text-anchor="end">10.5°N</text>
<text x="196" y="668.5" text-anchor="end">9°N</text>
<text x="196" y="854.5" text-anchor="end">7.5°N</text>
<text x="196" y="1041.5" text-anchor="end">6°N</text>
<text x="196" y="1227.5" text-anchor="end">4.5°N</text>
<text x="831.4" y="77.4" text-anchor="middle" font-size="50">rf(mm) 20250920_03 to 20250920_06</text>
<text x="847.3" y="135.4" text-anchor="middle" font-size="50">Simulation Time: 20250919_12</text>
</g>
</svg></body></html>
